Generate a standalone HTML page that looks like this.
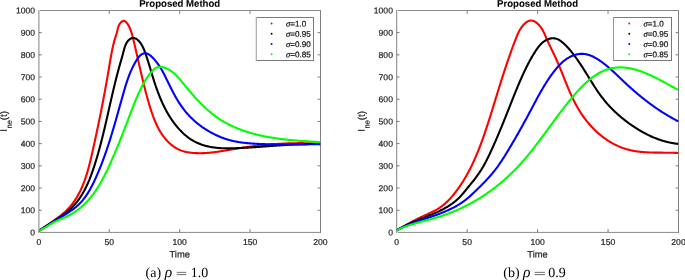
<!DOCTYPE html>
<html><head><meta charset="utf-8"><style>
html,body{margin:0;padding:0;background:#fff;}
body{width:685px;height:280px;overflow:hidden;}
svg{display:block;will-change:transform;}
text{font-family:"Liberation Sans",sans-serif;fill:#262626;stroke:#262626;stroke-width:0.22px;}
.tl{font-size:8.6px;}
.tt{font-size:9.6px;font-weight:bold;fill:#000;stroke:#000;stroke-width:0.08px;}
.xl{font-size:9.4px;}
.yl{font-size:9.4px;}
.lg{font-size:8.1px;fill:#000;}
.sg{font-family:"Liberation Serif",serif;font-style:italic;font-size:8.6px;}
.cap{font-family:"Liberation Serif",serif;font-size:14px;fill:#000;stroke:none;}
.capi{font-style:italic;font-size:15.5px;}
</style></head><body>
<svg width="685" height="280" viewBox="0 0 685 280" xmlns="http://www.w3.org/2000/svg">
<defs><clipPath id="c0"><rect x="38.9" y="10.43" width="281.55" height="222.0"/></clipPath><clipPath id="c1"><rect x="396.7" y="10.43" width="281.8" height="222.0"/></clipPath></defs>
<rect x="38" y="10" width="283" height="1" fill="#888888"/>
<rect x="38" y="232" width="283" height="1" fill="#959595"/>
<rect x="38" y="231" width="283" height="1" fill="#f3f3f3"/>
<rect x="38" y="10" width="1" height="223" fill="#b5b5b5"/>
<rect x="39" y="10" width="1" height="223" fill="#cbcbcb"/>
<rect x="320" y="10" width="1" height="223" fill="#808080"/>
<text x="38.90" y="245.0" transform="rotate(0.05 38.90 245.0)" class="tl" text-anchor="middle">0</text>
<line x1="109.29" y1="232" x2="109.29" y2="229.10" stroke="#262626" stroke-width="0.6"/>
<line x1="109.29" y1="11" x2="109.29" y2="13.90" stroke="#262626" stroke-width="0.6"/>
<text x="109.29" y="245.0" transform="rotate(0.05 109.29 245.0)" class="tl" text-anchor="middle">50</text>
<line x1="179.68" y1="232" x2="179.68" y2="229.10" stroke="#262626" stroke-width="0.6"/>
<line x1="179.68" y1="11" x2="179.68" y2="13.90" stroke="#262626" stroke-width="0.6"/>
<text x="179.68" y="245.0" transform="rotate(0.05 179.68 245.0)" class="tl" text-anchor="middle">100</text>
<line x1="250.06" y1="232" x2="250.06" y2="229.10" stroke="#262626" stroke-width="0.6"/>
<line x1="250.06" y1="11" x2="250.06" y2="13.90" stroke="#262626" stroke-width="0.6"/>
<text x="250.06" y="245.0" transform="rotate(0.05 250.06 245.0)" class="tl" text-anchor="middle">150</text>
<text x="320.45" y="245.0" transform="rotate(0.05 320.45 245.0)" class="tl" text-anchor="middle">200</text>
<text x="35.15" y="235.58" transform="rotate(0.05 35.15 235.58)" class="tl" text-anchor="end">0</text>
<line x1="38.9" y1="210.23" x2="41.80" y2="210.23" stroke="#262626" stroke-width="0.6"/>
<line x1="320" y1="210.23" x2="317.60" y2="210.23" stroke="#262626" stroke-width="0.6"/>
<text x="35.15" y="213.38" transform="rotate(0.05 35.15 213.38)" class="tl" text-anchor="end">100</text>
<line x1="38.9" y1="188.03" x2="41.80" y2="188.03" stroke="#262626" stroke-width="0.6"/>
<line x1="320" y1="188.03" x2="317.60" y2="188.03" stroke="#262626" stroke-width="0.6"/>
<text x="35.15" y="191.18" transform="rotate(0.05 35.15 191.18)" class="tl" text-anchor="end">200</text>
<line x1="38.9" y1="165.83" x2="41.80" y2="165.83" stroke="#262626" stroke-width="0.6"/>
<line x1="320" y1="165.83" x2="317.60" y2="165.83" stroke="#262626" stroke-width="0.6"/>
<text x="35.15" y="168.98" transform="rotate(0.05 35.15 168.98)" class="tl" text-anchor="end">300</text>
<line x1="38.9" y1="143.63" x2="41.80" y2="143.63" stroke="#262626" stroke-width="0.6"/>
<line x1="320" y1="143.63" x2="317.60" y2="143.63" stroke="#262626" stroke-width="0.6"/>
<text x="35.15" y="146.78" transform="rotate(0.05 35.15 146.78)" class="tl" text-anchor="end">400</text>
<line x1="38.9" y1="121.43" x2="41.80" y2="121.43" stroke="#262626" stroke-width="0.6"/>
<line x1="320" y1="121.43" x2="317.60" y2="121.43" stroke="#262626" stroke-width="0.6"/>
<text x="35.15" y="124.58" transform="rotate(0.05 35.15 124.58)" class="tl" text-anchor="end">500</text>
<line x1="38.9" y1="99.23" x2="41.80" y2="99.23" stroke="#262626" stroke-width="0.6"/>
<line x1="320" y1="99.23" x2="317.60" y2="99.23" stroke="#262626" stroke-width="0.6"/>
<text x="35.15" y="102.38" transform="rotate(0.05 35.15 102.38)" class="tl" text-anchor="end">600</text>
<line x1="38.9" y1="77.03" x2="41.80" y2="77.03" stroke="#262626" stroke-width="0.6"/>
<line x1="320" y1="77.03" x2="317.60" y2="77.03" stroke="#262626" stroke-width="0.6"/>
<text x="35.15" y="80.18" transform="rotate(0.05 35.15 80.18)" class="tl" text-anchor="end">700</text>
<line x1="38.9" y1="54.83" x2="41.80" y2="54.83" stroke="#262626" stroke-width="0.6"/>
<line x1="320" y1="54.83" x2="317.60" y2="54.83" stroke="#262626" stroke-width="0.6"/>
<text x="35.15" y="57.98" transform="rotate(0.05 35.15 57.98)" class="tl" text-anchor="end">800</text>
<line x1="38.9" y1="32.63" x2="41.80" y2="32.63" stroke="#262626" stroke-width="0.6"/>
<line x1="320" y1="32.63" x2="317.60" y2="32.63" stroke="#262626" stroke-width="0.6"/>
<text x="35.15" y="35.78" transform="rotate(0.05 35.15 35.78)" class="tl" text-anchor="end">900</text>
<text x="35.15" y="13.58" transform="rotate(0.05 35.15 13.58)" class="tl" text-anchor="end">1000</text>
<g clip-path="url(#c0)" fill="none" stroke-width="2.1" stroke-linejoin="round" stroke-linecap="butt">
<polyline points="38.90,230.79 39.49,230.39 40.09,229.98 40.69,229.57 41.29,229.16 41.90,228.75 42.51,228.34 43.12,227.93 43.73,227.52 44.35,227.11 44.97,226.70 45.59,226.28 46.21,225.87 46.84,225.45 47.46,225.04 48.09,224.62 48.71,224.20 49.34,223.78 49.97,223.36 50.59,222.93 51.22,222.51 51.85,222.08 52.47,221.65 53.10,221.22 53.72,220.78 54.34,220.34 54.96,219.90 55.58,219.46 56.19,219.02 56.80,218.57 57.41,218.12 58.02,217.66 58.63,217.20 59.23,216.74 59.82,216.27 60.41,215.81 61.00,215.33 61.59,214.86 62.16,214.37 62.74,213.89 63.31,213.40 63.87,212.91 64.43,212.41 64.98,211.91 65.53,211.40 66.07,210.89 66.60,210.37 67.13,209.85 67.64,209.32 68.16,208.78 68.66,208.25 69.16,207.70 69.65,207.15 70.13,206.60 70.60,206.04 71.07,205.48 71.53,204.91 71.99,204.33 72.43,203.75 72.87,203.17 73.31,202.58 73.74,201.99 74.16,201.39 74.57,200.79 74.98,200.18 75.38,199.57 75.78,198.96 76.17,198.34 76.55,197.72 76.93,197.09 77.30,196.46 77.67,195.82 78.03,195.18 78.38,194.54 78.73,193.89 79.07,193.24 79.41,192.59 79.75,191.93 80.07,191.27 80.40,190.61 80.71,189.94 81.03,189.27 81.34,188.60 81.64,187.92 81.94,187.24 82.23,186.56 82.52,185.88 82.81,185.19 83.09,184.50 83.36,183.80 83.63,183.11 83.90,182.41 84.17,181.71 84.43,181.00 84.68,180.30 84.93,179.59 85.18,178.88 85.43,178.17 85.67,177.46 85.90,176.74 86.14,176.02 86.37,175.30 86.60,174.58 86.82,173.86 87.04,173.13 87.26,172.41 87.48,171.68 87.69,170.95 87.90,170.22 88.10,169.49 88.31,168.75 88.51,168.02 88.71,167.29 88.91,166.55 89.10,165.81 89.29,165.08 89.48,164.34 89.67,163.60 89.86,162.86 90.04,162.12 90.23,161.38 90.41,160.64 90.59,159.89 90.76,159.15 90.94,158.41 91.12,157.67 91.29,156.93 91.46,156.18 91.63,155.44 91.80,154.70 91.97,153.96 92.14,153.22 92.31,152.48 92.47,151.73 92.64,150.99 92.80,150.25 92.97,149.52 93.13,148.78 93.30,148.04 93.46,147.30 93.62,146.57 93.79,145.83 93.95,145.10 94.11,144.36 94.27,143.63 94.43,142.89 94.59,142.16 94.75,141.43 94.91,140.70 95.07,139.97 95.23,139.24 95.39,138.51 95.55,137.78 95.70,137.05 95.86,136.32 96.02,135.59 96.17,134.86 96.33,134.13 96.48,133.41 96.64,132.68 96.79,131.95 96.95,131.23 97.10,130.50 97.25,129.78 97.41,129.05 97.56,128.32 97.71,127.60 97.86,126.88 98.01,126.15 98.16,125.43 98.32,124.70 98.47,123.98 98.62,123.26 98.76,122.53 98.91,121.81 99.06,121.09 99.21,120.36 99.36,119.64 99.51,118.92 99.65,118.20 99.80,117.47 99.95,116.75 100.09,116.03 100.24,115.31 100.38,114.59 100.53,113.86 100.67,113.14 100.82,112.42 100.96,111.70 101.11,110.97 101.25,110.25 101.39,109.53 101.53,108.81 101.68,108.08 101.82,107.36 101.96,106.64 102.10,105.91 102.24,105.19 102.38,104.47 102.52,103.74 102.66,103.02 102.80,102.29 102.94,101.57 103.08,100.84 103.22,100.12 103.36,99.39 103.50,98.67 103.63,97.94 103.77,97.21 103.91,96.49 104.04,95.76 104.18,95.03 104.32,94.30 104.45,93.58 104.59,92.85 104.72,92.12 104.86,91.39 104.99,90.66 105.13,89.93 105.26,89.20 105.40,88.47 105.53,87.73 105.66,87.00 105.80,86.27 105.93,85.53 106.06,84.80 106.20,84.06 106.33,83.33 106.46,82.59 106.59,81.86 106.72,81.12 106.85,80.38 106.98,79.64 107.11,78.90 107.24,78.16 107.37,77.42 107.50,76.68 107.63,75.94 107.76,75.19 107.89,74.45 108.02,73.70 108.15,72.96 108.28,72.21 108.40,71.46 108.53,70.72 108.66,69.97 108.79,69.22 108.91,68.47 109.04,67.71 109.17,66.96 109.29,66.21 109.42,65.45 109.55,64.70 109.67,63.94 109.80,63.18 109.93,62.43 110.05,61.67 110.18,60.91 110.31,60.16 110.44,59.40 110.57,58.64 110.70,57.89 110.83,57.13 110.96,56.38 111.10,55.63 111.23,54.87 111.37,54.12 111.51,53.37 111.66,52.63 111.80,51.88 111.95,51.14 112.09,50.40 112.25,49.66 112.40,48.92 112.56,48.19 112.72,47.46 112.88,46.73 113.04,46.01 113.21,45.29 113.39,44.57 113.56,43.86 113.74,43.15 113.93,42.44 114.11,41.74 114.31,41.04 114.50,40.35 114.70,39.66 114.91,38.98 115.12,38.30 115.33,37.62 115.55,36.95 115.77,36.28 115.99,35.61 116.20,34.94 116.41,34.25 116.62,33.56 116.81,32.85 116.99,32.12 117.16,31.38 117.33,30.63 117.50,29.86 117.68,29.09 117.88,28.32 118.10,27.55 118.35,26.79 118.63,26.03 118.95,25.29 119.33,24.57 119.75,23.86 120.23,23.18 120.75,22.55 121.31,21.99 121.90,21.51 122.50,21.14 123.11,20.90 123.71,20.81 124.30,20.88 124.87,21.11 125.42,21.46 125.95,21.93 126.46,22.48 126.95,23.09 127.41,23.75 127.85,24.43 128.27,25.11 128.66,25.80 129.03,26.49 129.38,27.19 129.71,27.89 130.02,28.59 130.32,29.30 130.59,30.01 130.86,30.72 131.11,31.44 131.35,32.16 131.57,32.88 131.79,33.60 132.00,34.32 132.20,35.05 132.39,35.77 132.58,36.50 132.77,37.23 132.95,37.95 133.13,38.68 133.31,39.41 133.49,40.14 133.67,40.86 133.84,41.59 134.02,42.32 134.20,43.05 134.37,43.78 134.54,44.50 134.72,45.23 134.89,45.96 135.06,46.69 135.23,47.42 135.40,48.14 135.57,48.87 135.74,49.60 135.91,50.33 136.08,51.06 136.25,51.78 136.41,52.51 136.58,53.24 136.75,53.97 136.91,54.70 137.08,55.42 137.25,56.15 137.41,56.88 137.58,57.61 137.74,58.33 137.91,59.06 138.07,59.79 138.24,60.52 138.40,61.24 138.57,61.97 138.73,62.70 138.89,63.42 139.06,64.15 139.22,64.88 139.39,65.60 139.55,66.33 139.72,67.06 139.88,67.78 140.05,68.51 140.21,69.24 140.38,69.96 140.55,70.69 140.71,71.41 140.88,72.14 141.05,72.87 141.22,73.59 141.38,74.32 141.55,75.04 141.72,75.77 141.89,76.49 142.06,77.22 142.23,77.94 142.41,78.67 142.58,79.39 142.75,80.12 142.93,80.84 143.10,81.56 143.28,82.29 143.45,83.01 143.63,83.74 143.81,84.46 143.99,85.18 144.17,85.91 144.35,86.63 144.53,87.35 144.71,88.07 144.90,88.80 145.08,89.52 145.27,90.24 145.46,90.96 145.65,91.68 145.84,92.41 146.03,93.13 146.22,93.85 146.41,94.57 146.61,95.29 146.81,96.01 147.00,96.73 147.20,97.45 147.40,98.17 147.61,98.89 147.81,99.61 148.02,100.33 148.22,101.05 148.43,101.77 148.64,102.48 148.85,103.20 149.07,103.92 149.28,104.64 149.50,105.35 149.72,106.07 149.94,106.79 150.16,107.50 150.39,108.22 150.62,108.94 150.84,109.65 151.08,110.37 151.31,111.08 151.54,111.80 151.78,112.51 152.03,113.22 152.27,113.93 152.52,114.64 152.77,115.35 153.03,116.05 153.28,116.76 153.55,117.46 153.81,118.16 154.08,118.86 154.36,119.56 154.64,120.25 154.92,120.94 155.21,121.63 155.51,122.32 155.81,123.01 156.11,123.69 156.42,124.37 156.74,125.04 157.06,125.71 157.39,126.38 157.72,127.05 158.06,127.71 158.41,128.37 158.76,129.02 159.12,129.67 159.48,130.32 159.86,130.96 160.24,131.60 160.63,132.23 161.02,132.86 161.43,133.49 161.84,134.11 162.25,134.72 162.68,135.33 163.12,135.94 163.56,136.53 164.01,137.13 164.47,137.72 164.94,138.30 165.42,138.88 165.91,139.45 166.41,140.01 166.91,140.56 167.42,141.11 167.95,141.65 168.48,142.18 169.01,142.70 169.56,143.22 170.12,143.72 170.68,144.21 171.25,144.69 171.83,145.16 172.42,145.62 173.01,146.07 173.62,146.51 174.23,146.93 174.85,147.34 175.48,147.74 176.12,148.12 176.76,148.49 177.41,148.84 178.07,149.18 178.74,149.50 179.41,149.81 180.09,150.10 180.78,150.38 181.48,150.64 182.19,150.88 182.90,151.11 183.61,151.32 184.34,151.51 185.06,151.70 185.79,151.87 186.53,152.02 187.27,152.17 188.01,152.30 188.76,152.42 189.50,152.53 190.25,152.63 191.00,152.72 191.75,152.80 192.50,152.88 193.25,152.94 194.00,153.00 194.75,153.05 195.50,153.09 196.25,153.12 197.00,153.15 197.75,153.17 198.49,153.19 199.24,153.20 199.98,153.20 200.73,153.19 201.47,153.18 202.22,153.16 202.96,153.14 203.71,153.11 204.45,153.08 205.19,153.04 205.93,153.00 206.68,152.95 207.42,152.89 208.16,152.84 208.90,152.77 209.64,152.71 210.38,152.63 211.12,152.56 211.86,152.48 212.60,152.39 213.34,152.31 214.08,152.22 214.82,152.12 215.56,152.03 216.29,151.93 217.03,151.82 217.77,151.72 218.51,151.61 219.25,151.50 219.98,151.39 220.72,151.28 221.46,151.16 222.20,151.04 222.93,150.92 223.67,150.80 224.41,150.68 225.15,150.56 225.88,150.43 226.62,150.31 227.36,150.18 228.09,150.06 228.83,149.93 229.57,149.80 230.31,149.68 231.04,149.55 231.78,149.43 232.52,149.30 233.26,149.18 233.99,149.05 234.73,148.93 235.47,148.81 236.21,148.69 236.95,148.57 237.69,148.45 238.42,148.33 239.16,148.21 239.90,148.10 240.64,147.99 241.38,147.87 242.12,147.76 242.86,147.65 243.60,147.54 244.34,147.43 245.08,147.33 245.82,147.22 246.56,147.12 247.30,147.02 248.04,146.91 248.78,146.81 249.52,146.71 250.26,146.62 251.00,146.52 251.75,146.42 252.49,146.33 253.23,146.24 253.97,146.15 254.71,146.05 255.45,145.97 256.19,145.88 256.94,145.79 257.68,145.71 258.42,145.62 259.16,145.54 259.91,145.46 260.65,145.38 261.39,145.30 262.13,145.22 262.88,145.15 263.62,145.07 264.36,145.00 265.11,144.93 265.85,144.86 266.59,144.79 267.34,144.72 268.08,144.65 268.82,144.59 269.57,144.52 270.31,144.46 271.06,144.40 271.80,144.34 272.55,144.28 273.29,144.23 274.03,144.17 274.78,144.12 275.52,144.06 276.27,144.01 277.01,143.96 277.76,143.92 278.50,143.87 279.25,143.82 279.99,143.78 280.74,143.74 281.48,143.70 282.23,143.66 282.97,143.62 283.72,143.58 284.46,143.55 285.21,143.51 285.95,143.48 286.70,143.45 287.45,143.42 288.19,143.39 288.94,143.37 289.68,143.34 290.43,143.32 291.18,143.30 291.92,143.28 292.67,143.26 293.41,143.24 294.16,143.23 294.91,143.21 295.65,143.20 296.40,143.19 297.15,143.18 297.89,143.17 298.64,143.17 299.39,143.16 300.13,143.16 300.88,143.16 301.63,143.16 302.37,143.16 303.12,143.16 303.87,143.17 304.61,143.18 305.36,143.19 306.11,143.20 306.85,143.21 307.60,143.22 308.35,143.23 309.09,143.25 309.84,143.27 310.59,143.29 311.33,143.31 312.08,143.33 312.83,143.36 313.58,143.39 314.32,143.41 315.07,143.44 315.82,143.47 316.56,143.51 317.31,143.54 318.06,143.58 318.81,143.62 319.55,143.66 320.30,143.70" stroke="#ff0000"/>
<polyline points="38.90,230.80 39.49,230.42 40.08,230.05 40.66,229.68 41.24,229.30 41.81,228.93 42.39,228.56 42.96,228.19 43.53,227.82 44.10,227.45 44.66,227.08 45.22,226.71 45.78,226.35 46.34,225.98 46.90,225.61 47.46,225.24 48.02,224.88 48.57,224.51 49.13,224.14 49.68,223.78 50.24,223.41 50.80,223.04 51.35,222.67 51.91,222.31 52.47,221.94 53.03,221.57 53.59,221.20 54.15,220.83 54.71,220.46 55.28,220.08 55.84,219.71 56.41,219.34 56.99,218.96 57.56,218.58 58.13,218.21 58.71,217.83 59.29,217.45 59.86,217.06 60.44,216.68 61.01,216.29 61.59,215.90 62.16,215.50 62.73,215.11 63.30,214.71 63.86,214.30 64.42,213.90 64.98,213.49 65.53,213.07 66.08,212.65 66.63,212.23 67.17,211.80 67.70,211.37 68.23,210.93 68.75,210.49 69.26,210.04 69.77,209.59 70.27,209.13 70.77,208.67 71.26,208.20 71.74,207.73 72.22,207.25 72.69,206.77 73.15,206.28 73.61,205.79 74.06,205.30 74.51,204.80 74.95,204.29 75.39,203.79 75.82,203.27 76.25,202.76 76.67,202.24 77.08,201.71 77.49,201.18 77.89,200.65 78.29,200.11 78.69,199.57 79.08,199.03 79.46,198.48 79.84,197.93 80.21,197.38 80.58,196.82 80.95,196.26 81.31,195.69 81.66,195.13 82.01,194.56 82.36,193.98 82.70,193.40 83.04,192.82 83.37,192.24 83.70,191.65 84.02,191.06 84.34,190.47 84.66,189.88 84.97,189.28 85.28,188.68 85.59,188.08 85.89,187.47 86.19,186.87 86.48,186.26 86.77,185.64 87.06,185.03 87.34,184.41 87.62,183.80 87.90,183.17 88.17,182.55 88.44,181.93 88.71,181.30 88.97,180.67 89.24,180.04 89.49,179.41 89.75,178.78 90.00,178.14 90.25,177.51 90.50,176.87 90.74,176.23 90.98,175.59 91.22,174.95 91.46,174.30 91.70,173.66 91.93,173.02 92.16,172.37 92.39,171.72 92.61,171.07 92.84,170.43 93.06,169.78 93.28,169.13 93.50,168.47 93.71,167.82 93.93,167.17 94.14,166.52 94.35,165.87 94.56,165.21 94.77,164.56 94.97,163.90 95.18,163.25 95.38,162.60 95.59,161.94 95.79,161.29 95.99,160.63 96.19,159.98 96.39,159.32 96.58,158.67 96.78,158.01 96.97,157.36 97.16,156.70 97.36,156.05 97.55,155.39 97.73,154.74 97.92,154.08 98.11,153.42 98.30,152.77 98.48,152.11 98.66,151.45 98.85,150.80 99.03,150.14 99.21,149.48 99.39,148.83 99.57,148.17 99.74,147.51 99.92,146.86 100.10,146.20 100.27,145.54 100.45,144.88 100.62,144.23 100.79,143.57 100.96,142.91 101.13,142.25 101.30,141.59 101.47,140.94 101.64,140.28 101.81,139.62 101.97,138.96 102.14,138.30 102.30,137.64 102.47,136.98 102.63,136.33 102.79,135.67 102.96,135.01 103.12,134.35 103.28,133.69 103.44,133.03 103.60,132.37 103.76,131.71 103.92,131.05 104.08,130.39 104.23,129.73 104.39,129.07 104.55,128.42 104.70,127.76 104.86,127.10 105.01,126.44 105.17,125.78 105.32,125.12 105.48,124.46 105.63,123.80 105.78,123.14 105.94,122.48 106.09,121.82 106.24,121.16 106.39,120.50 106.54,119.84 106.69,119.18 106.85,118.52 107.00,117.86 107.15,117.20 107.30,116.54 107.45,115.88 107.60,115.22 107.75,114.56 107.90,113.90 108.05,113.24 108.20,112.58 108.34,111.92 108.49,111.26 108.64,110.60 108.79,109.94 108.94,109.28 109.09,108.62 109.24,107.96 109.39,107.30 109.54,106.64 109.69,105.98 109.84,105.32 109.99,104.67 110.13,104.01 110.28,103.35 110.43,102.69 110.58,102.03 110.73,101.37 110.88,100.71 111.03,100.05 111.18,99.39 111.33,98.73 111.49,98.07 111.64,97.41 111.79,96.76 111.94,96.10 112.09,95.44 112.25,94.78 112.40,94.12 112.55,93.46 112.70,92.80 112.86,92.15 113.01,91.49 113.17,90.83 113.32,90.17 113.48,89.51 113.63,88.86 113.79,88.20 113.95,87.54 114.11,86.88 114.26,86.23 114.42,85.57 114.58,84.91 114.74,84.26 114.90,83.60 115.06,82.94 115.22,82.28 115.39,81.63 115.55,80.97 115.71,80.32 115.88,79.66 116.04,79.00 116.21,78.35 116.38,77.69 116.54,77.04 116.71,76.38 116.88,75.73 117.05,75.07 117.22,74.42 117.39,73.76 117.56,73.11 117.74,72.45 117.91,71.80 118.09,71.14 118.26,70.49 118.44,69.83 118.62,69.18 118.80,68.53 118.98,67.87 119.16,67.22 119.34,66.57 119.52,65.91 119.70,65.26 119.89,64.61 120.07,63.96 120.26,63.30 120.45,62.65 120.63,61.99 120.82,61.34 121.01,60.68 121.20,60.02 121.39,59.37 121.57,58.70 121.76,58.04 121.95,57.38 122.14,56.71 122.32,56.04 122.51,55.37 122.69,54.70 122.88,54.03 123.06,53.35 123.24,52.67 123.42,51.98 123.60,51.29 123.78,50.60 123.97,49.91 124.15,49.22 124.35,48.54 124.55,47.86 124.76,47.18 124.98,46.51 125.22,45.85 125.47,45.20 125.75,44.56 126.04,43.93 126.35,43.32 126.69,42.73 127.05,42.15 127.44,41.59 127.86,41.05 128.31,40.54 128.79,40.05 129.31,39.59 129.85,39.16 130.42,38.78 131.01,38.46 131.62,38.21 132.24,38.03 132.86,37.93 133.50,37.92 134.13,38.01 134.76,38.18 135.38,38.42 135.99,38.73 136.59,39.09 137.18,39.51 137.74,39.96 138.28,40.45 138.80,40.97 139.29,41.50 139.76,42.05 140.20,42.60 140.62,43.17 141.01,43.74 141.38,44.31 141.72,44.90 142.06,45.48 142.37,46.08 142.67,46.68 142.96,47.28 143.25,47.89 143.52,48.50 143.78,49.12 144.04,49.74 144.29,50.37 144.54,51.00 144.78,51.63 145.02,52.26 145.25,52.90 145.48,53.54 145.70,54.17 145.93,54.81 146.15,55.46 146.36,56.10 146.58,56.74 146.79,57.38 147.00,58.03 147.21,58.67 147.42,59.31 147.63,59.96 147.83,60.60 148.04,61.25 148.24,61.89 148.44,62.54 148.64,63.18 148.84,63.83 149.04,64.48 149.24,65.12 149.43,65.77 149.63,66.42 149.83,67.07 150.02,67.71 150.22,68.36 150.41,69.01 150.60,69.66 150.80,70.31 150.99,70.96 151.19,71.60 151.38,72.25 151.58,72.90 151.77,73.55 151.97,74.20 152.17,74.85 152.36,75.50 152.56,76.15 152.76,76.80 152.96,77.45 153.16,78.09 153.36,78.74 153.57,79.39 153.77,80.04 153.98,80.69 154.19,81.34 154.39,81.99 154.61,82.63 154.82,83.28 155.03,83.93 155.25,84.58 155.47,85.22 155.68,85.87 155.91,86.51 156.13,87.16 156.35,87.80 156.58,88.45 156.81,89.09 157.04,89.73 157.27,90.38 157.51,91.02 157.74,91.66 157.98,92.30 158.22,92.93 158.47,93.57 158.71,94.21 158.96,94.84 159.21,95.48 159.46,96.11 159.72,96.74 159.98,97.38 160.24,98.01 160.50,98.63 160.76,99.26 161.03,99.89 161.30,100.51 161.58,101.14 161.85,101.76 162.13,102.38 162.41,103.00 162.70,103.61 162.99,104.23 163.28,104.84 163.57,105.46 163.87,106.07 164.16,106.68 164.47,107.28 164.77,107.89 165.08,108.49 165.39,109.09 165.71,109.69 166.03,110.29 166.35,110.88 166.67,111.48 167.00,112.07 167.33,112.66 167.67,113.24 168.01,113.83 168.35,114.41 168.70,114.99 169.05,115.57 169.40,116.14 169.76,116.71 170.12,117.28 170.49,117.85 170.85,118.42 171.23,118.98 171.60,119.54 171.98,120.09 172.37,120.65 172.76,121.20 173.15,121.75 173.55,122.29 173.95,122.84 174.35,123.38 174.76,123.91 175.17,124.45 175.59,124.98 176.01,125.50 176.44,126.03 176.87,126.55 177.31,127.07 177.75,127.58 178.19,128.09 178.64,128.60 179.10,129.11 179.55,129.61 180.02,130.10 180.48,130.60 180.96,131.09 181.43,131.58 181.92,132.06 182.40,132.54 182.90,133.01 183.39,133.48 183.90,133.94 184.40,134.40 184.92,134.85 185.43,135.30 185.96,135.74 186.49,136.18 187.02,136.60 187.56,137.02 188.10,137.44 188.65,137.84 189.21,138.24 189.77,138.63 190.34,139.02 190.91,139.39 191.49,139.76 192.07,140.12 192.66,140.47 193.25,140.81 193.85,141.14 194.46,141.46 195.06,141.78 195.68,142.09 196.29,142.39 196.91,142.68 197.54,142.96 198.16,143.23 198.80,143.50 199.43,143.76 200.07,144.01 200.71,144.25 201.35,144.49 202.00,144.71 202.64,144.93 203.29,145.14 203.95,145.34 204.60,145.54 205.25,145.72 205.91,145.90 206.57,146.07 207.23,146.24 207.89,146.39 208.55,146.54 209.21,146.69 209.87,146.82 210.53,146.95 211.20,147.07 211.87,147.18 212.53,147.29 213.20,147.39 213.87,147.49 214.54,147.58 215.21,147.66 215.88,147.74 216.55,147.81 217.22,147.88 217.89,147.94 218.57,148.00 219.24,148.05 219.91,148.10 220.59,148.14 221.26,148.18 221.94,148.21 222.62,148.24 223.29,148.27 223.97,148.29 224.65,148.31 225.33,148.32 226.01,148.33 226.69,148.34 227.36,148.34 228.04,148.34 228.72,148.34 229.40,148.34 230.08,148.33 230.76,148.32 231.44,148.31 232.12,148.29 232.80,148.28 233.48,148.26 234.16,148.24 234.84,148.22 235.52,148.19 236.20,148.17 236.88,148.15 237.56,148.12 238.24,148.09 238.92,148.06 239.60,148.04 240.28,148.01 240.96,147.97 241.64,147.94 242.32,147.91 243.00,147.88 243.68,147.84 244.36,147.81 245.04,147.77 245.72,147.73 246.39,147.69 247.07,147.66 247.75,147.62 248.43,147.58 249.11,147.54 249.79,147.49 250.46,147.45 251.14,147.41 251.82,147.37 252.50,147.32 253.18,147.28 253.85,147.23 254.53,147.19 255.21,147.14 255.89,147.10 256.56,147.05 257.24,147.00 257.92,146.96 258.60,146.91 259.27,146.86 259.95,146.81 260.63,146.76 261.30,146.71 261.98,146.66 262.66,146.61 263.34,146.57 264.01,146.52 264.69,146.47 265.37,146.42 266.04,146.37 266.72,146.32 267.40,146.27 268.07,146.22 268.75,146.17 269.43,146.11 270.10,146.06 270.78,146.01 271.46,145.96 272.13,145.91 272.81,145.87 273.49,145.82 274.17,145.77 274.84,145.72 275.52,145.67 276.20,145.62 276.87,145.57 277.55,145.52 278.23,145.47 278.90,145.43 279.58,145.38 280.26,145.33 280.93,145.29 281.61,145.24 282.29,145.20 282.96,145.15 283.64,145.11 284.32,145.06 285.00,145.02 285.67,144.98 286.35,144.93 287.03,144.89 287.70,144.85 288.38,144.81 289.06,144.77 289.74,144.73 290.41,144.70 291.09,144.66 291.77,144.62 292.45,144.59 293.12,144.55 293.80,144.52 294.48,144.48 295.16,144.45 295.83,144.42 296.51,144.39 297.19,144.36 297.87,144.33 298.55,144.30 299.22,144.28 299.90,144.25 300.58,144.23 301.26,144.20 301.94,144.18 302.62,144.16 303.30,144.14 303.97,144.12 304.65,144.11 305.33,144.09 306.01,144.08 306.69,144.06 307.37,144.05 308.05,144.04 308.73,144.03 309.41,144.02 310.09,144.02 310.77,144.01 311.45,144.01 312.13,144.00 312.81,144.00 313.49,144.00 314.17,144.01 314.85,144.01 315.53,144.02 316.21,144.02 316.89,144.03 317.57,144.04 318.26,144.05 318.94,144.07 319.62,144.08 320.30,144.10" stroke="#000000"/>
<polyline points="38.90,230.80 39.44,230.49 39.98,230.17 40.52,229.85 41.06,229.54 41.59,229.22 42.13,228.90 42.66,228.59 43.19,228.27 43.72,227.95 44.25,227.63 44.78,227.31 45.31,226.99 45.84,226.67 46.36,226.34 46.88,226.02 47.41,225.70 47.93,225.38 48.45,225.05 48.97,224.73 49.49,224.40 50.01,224.08 50.53,223.75 51.05,223.43 51.57,223.10 52.09,222.77 52.61,222.45 53.13,222.12 53.65,221.79 54.17,221.46 54.68,221.14 55.20,220.81 55.72,220.48 56.24,220.15 56.76,219.82 57.28,219.49 57.80,219.16 58.32,218.83 58.84,218.50 59.36,218.17 59.88,217.84 60.40,217.50 60.93,217.17 61.45,216.84 61.98,216.51 62.50,216.18 63.03,215.84 63.56,215.51 64.09,215.18 64.62,214.85 65.15,214.51 65.67,214.18 66.20,213.84 66.73,213.50 67.26,213.16 67.79,212.82 68.32,212.48 68.84,212.14 69.36,211.79 69.89,211.44 70.41,211.09 70.92,210.74 71.44,210.38 71.95,210.02 72.46,209.66 72.96,209.29 73.46,208.92 73.96,208.55 74.45,208.17 74.94,207.79 75.43,207.41 75.91,207.02 76.38,206.62 76.85,206.22 77.31,205.82 77.77,205.41 78.22,204.99 78.67,204.57 79.11,204.15 79.54,203.72 79.97,203.28 80.40,202.84 80.81,202.40 81.23,201.95 81.63,201.49 82.03,201.03 82.43,200.57 82.82,200.10 83.21,199.63 83.59,199.15 83.97,198.67 84.34,198.19 84.71,197.70 85.07,197.21 85.43,196.72 85.78,196.22 86.13,195.71 86.48,195.21 86.82,194.70 87.16,194.19 87.49,193.67 87.82,193.15 88.15,192.63 88.47,192.11 88.79,191.58 89.10,191.05 89.41,190.52 89.72,189.98 90.03,189.44 90.33,188.90 90.63,188.36 90.92,187.82 91.21,187.27 91.50,186.72 91.79,186.17 92.08,185.62 92.36,185.07 92.64,184.51 92.91,183.96 93.19,183.40 93.46,182.84 93.73,182.28 94.00,181.71 94.27,181.15 94.53,180.59 94.79,180.02 95.05,179.46 95.31,178.89 95.57,178.32 95.82,177.75 96.08,177.19 96.33,176.62 96.58,176.05 96.83,175.48 97.08,174.91 97.33,174.34 97.58,173.77 97.82,173.19 98.06,172.62 98.31,172.05 98.55,171.48 98.79,170.90 99.02,170.33 99.26,169.76 99.50,169.18 99.73,168.61 99.96,168.03 100.19,167.45 100.43,166.88 100.65,166.30 100.88,165.72 101.11,165.15 101.34,164.57 101.56,163.99 101.78,163.41 102.01,162.83 102.23,162.25 102.45,161.67 102.67,161.09 102.88,160.51 103.10,159.93 103.32,159.35 103.53,158.77 103.74,158.19 103.96,157.61 104.17,157.02 104.38,156.44 104.59,155.86 104.80,155.27 105.00,154.69 105.21,154.11 105.41,153.52 105.62,152.94 105.82,152.35 106.03,151.77 106.23,151.18 106.43,150.60 106.63,150.01 106.83,149.42 107.03,148.84 107.22,148.25 107.42,147.66 107.61,147.08 107.81,146.49 108.00,145.90 108.20,145.31 108.39,144.73 108.58,144.14 108.77,143.55 108.96,142.96 109.15,142.37 109.34,141.78 109.53,141.19 109.71,140.60 109.90,140.01 110.09,139.42 110.27,138.83 110.46,138.24 110.64,137.65 110.82,137.06 111.01,136.47 111.19,135.88 111.37,135.29 111.55,134.70 111.73,134.11 111.91,133.52 112.09,132.92 112.27,132.33 112.44,131.74 112.62,131.15 112.80,130.56 112.97,129.97 113.15,129.37 113.33,128.78 113.50,128.19 113.67,127.60 113.85,127.00 114.02,126.41 114.20,125.82 114.37,125.23 114.54,124.63 114.71,124.04 114.88,123.45 115.06,122.86 115.23,122.26 115.40,121.67 115.57,121.08 115.74,120.48 115.91,119.89 116.08,119.30 116.24,118.70 116.41,118.11 116.58,117.52 116.75,116.93 116.92,116.33 117.08,115.74 117.25,115.15 117.42,114.55 117.59,113.96 117.75,113.37 117.92,112.78 118.09,112.18 118.25,111.59 118.42,111.00 118.59,110.40 118.75,109.81 118.92,109.22 119.08,108.63 119.25,108.04 119.41,107.44 119.58,106.85 119.75,106.26 119.91,105.67 120.08,105.08 120.24,104.48 120.41,103.89 120.57,103.30 120.74,102.71 120.90,102.12 121.07,101.53 121.24,100.94 121.40,100.35 121.57,99.75 121.73,99.16 121.90,98.57 122.07,97.98 122.23,97.39 122.40,96.80 122.57,96.21 122.73,95.62 122.90,95.04 123.07,94.45 123.23,93.86 123.40,93.27 123.57,92.68 123.74,92.09 123.91,91.50 124.08,90.92 124.25,90.33 124.42,89.74 124.59,89.15 124.76,88.57 124.94,87.98 125.11,87.40 125.29,86.81 125.46,86.22 125.64,85.64 125.83,85.05 126.01,84.47 126.19,83.88 126.38,83.30 126.57,82.72 126.76,82.13 126.95,81.55 127.14,80.97 127.34,80.38 127.54,79.80 127.74,79.22 127.95,78.64 128.16,78.06 128.37,77.48 128.58,76.90 128.80,76.32 129.02,75.74 129.24,75.16 129.46,74.58 129.69,74.00 129.93,73.43 130.16,72.85 130.40,72.27 130.65,71.70 130.90,71.12 131.15,70.55 131.40,69.97 131.66,69.40 131.93,68.83 132.20,68.25 132.47,67.68 132.75,67.11 133.03,66.54 133.32,65.97 133.61,65.40 133.91,64.83 134.21,64.26 134.52,63.69 134.83,63.12 135.15,62.55 135.47,61.99 135.80,61.42 136.14,60.85 136.48,60.29 136.82,59.73 137.18,59.17 137.55,58.62 137.92,58.08 138.31,57.55 138.71,57.04 139.13,56.55 139.56,56.08 140.01,55.64 140.48,55.22 140.97,54.83 141.48,54.47 142.00,54.15 142.52,53.87 143.06,53.64 143.60,53.45 144.15,53.32 144.70,53.24 145.25,53.22 145.79,53.26 146.34,53.35 146.88,53.50 147.41,53.70 147.95,53.93 148.47,54.21 149.00,54.53 149.51,54.87 150.02,55.25 150.53,55.65 151.03,56.08 151.52,56.52 152.00,56.97 152.47,57.44 152.94,57.91 153.39,58.39 153.84,58.87 154.28,59.35 154.71,59.83 155.13,60.32 155.54,60.81 155.95,61.31 156.34,61.80 156.73,62.30 157.12,62.80 157.49,63.30 157.86,63.81 158.23,64.32 158.58,64.83 158.93,65.34 159.28,65.86 159.61,66.37 159.95,66.89 160.27,67.41 160.60,67.94 160.92,68.46 161.23,68.99 161.54,69.52 161.84,70.05 162.14,70.58 162.44,71.12 162.74,71.65 163.03,72.19 163.31,72.73 163.60,73.27 163.88,73.81 164.16,74.35 164.44,74.90 164.72,75.44 164.99,75.99 165.27,76.54 165.54,77.09 165.81,77.64 166.08,78.19 166.35,78.74 166.62,79.29 166.89,79.84 167.16,80.40 167.43,80.95 167.70,81.51 167.97,82.07 168.24,82.62 168.51,83.18 168.78,83.74 169.06,84.29 169.33,84.85 169.60,85.41 169.88,85.97 170.15,86.52 170.43,87.08 170.71,87.64 170.99,88.20 171.27,88.75 171.55,89.31 171.83,89.87 172.12,90.42 172.40,90.98 172.69,91.53 172.98,92.08 173.27,92.64 173.56,93.19 173.85,93.74 174.15,94.29 174.44,94.84 174.74,95.38 175.04,95.93 175.35,96.48 175.65,97.02 175.96,97.56 176.27,98.10 176.58,98.64 176.90,99.18 177.21,99.71 177.53,100.25 177.85,100.78 178.18,101.31 178.50,101.83 178.83,102.36 179.17,102.88 179.50,103.40 179.84,103.92 180.18,104.44 180.53,104.95 180.87,105.46 181.23,105.97 181.58,106.48 181.94,106.98 182.30,107.48 182.66,107.98 183.03,108.48 183.40,108.97 183.78,109.46 184.16,109.94 184.54,110.42 184.92,110.90 185.31,111.38 185.71,111.85 186.10,112.32 186.50,112.79 186.90,113.26 187.31,113.72 187.72,114.17 188.13,114.63 188.55,115.08 188.97,115.53 189.39,115.98 189.81,116.42 190.24,116.86 190.67,117.30 191.11,117.73 191.55,118.16 191.99,118.59 192.43,119.01 192.88,119.43 193.33,119.85 193.78,120.26 194.24,120.67 194.70,121.08 195.16,121.49 195.63,121.89 196.09,122.29 196.57,122.68 197.04,123.07 197.52,123.46 198.00,123.85 198.48,124.23 198.96,124.61 199.45,124.99 199.94,125.36 200.44,125.73 200.93,126.09 201.43,126.46 201.93,126.82 202.44,127.17 202.94,127.53 203.45,127.88 203.96,128.22 204.48,128.57 205.00,128.91 205.52,129.24 206.04,129.57 206.56,129.90 207.09,130.23 207.62,130.55 208.15,130.87 208.69,131.19 209.22,131.50 209.76,131.81 210.30,132.12 210.85,132.42 211.39,132.72 211.94,133.01 212.49,133.30 213.04,133.59 213.59,133.87 214.15,134.15 214.71,134.43 215.27,134.70 215.83,134.97 216.39,135.23 216.96,135.49 217.52,135.75 218.09,136.00 218.66,136.25 219.23,136.49 219.81,136.73 220.38,136.96 220.96,137.20 221.54,137.42 222.12,137.65 222.70,137.86 223.28,138.08 223.86,138.29 224.45,138.49 225.04,138.70 225.62,138.89 226.21,139.09 226.80,139.27 227.40,139.46 227.99,139.64 228.58,139.81 229.18,139.98 229.77,140.14 230.37,140.30 230.97,140.46 231.57,140.61 232.17,140.76 232.77,140.90 233.37,141.03 233.97,141.17 234.57,141.29 235.18,141.42 235.78,141.54 236.39,141.65 236.99,141.76 237.60,141.87 238.21,141.98 238.82,142.08 239.43,142.17 240.03,142.27 240.64,142.36 241.26,142.44 241.87,142.53 242.48,142.61 243.09,142.68 243.70,142.76 244.32,142.83 244.93,142.90 245.54,142.96 246.16,143.03 246.77,143.09 247.39,143.15 248.00,143.20 248.62,143.26 249.23,143.31 249.85,143.36 250.47,143.41 251.08,143.45 251.70,143.50 252.32,143.54 252.94,143.58 253.55,143.62 254.17,143.66 254.79,143.70 255.41,143.73 256.02,143.77 256.64,143.80 257.26,143.84 257.88,143.87 258.49,143.90 259.11,143.93 259.73,143.96 260.35,143.99 260.97,144.02 261.58,144.05 262.20,144.07 262.82,144.10 263.44,144.12 264.05,144.15 264.67,144.17 265.29,144.19 265.91,144.22 266.53,144.24 267.14,144.26 267.76,144.28 268.38,144.30 269.00,144.31 269.62,144.33 270.23,144.35 270.85,144.36 271.47,144.38 272.09,144.39 272.71,144.41 273.32,144.42 273.94,144.43 274.56,144.44 275.18,144.45 275.80,144.46 276.41,144.47 277.03,144.48 277.65,144.49 278.27,144.50 278.89,144.51 279.50,144.51 280.12,144.52 280.74,144.52 281.36,144.53 281.98,144.53 282.59,144.54 283.21,144.54 283.83,144.54 284.45,144.54 285.07,144.55 285.69,144.55 286.30,144.55 286.92,144.55 287.54,144.55 288.16,144.55 288.78,144.55 289.39,144.54 290.01,144.54 290.63,144.54 291.25,144.54 291.87,144.53 292.49,144.53 293.10,144.53 293.72,144.52 294.34,144.52 294.96,144.51 295.58,144.51 296.19,144.50 296.81,144.49 297.43,144.49 298.05,144.48 298.67,144.47 299.29,144.47 299.90,144.46 300.52,144.45 301.14,144.44 301.76,144.43 302.38,144.43 302.99,144.42 303.61,144.41 304.23,144.40 304.85,144.39 305.47,144.38 306.08,144.37 306.70,144.36 307.32,144.35 307.94,144.34 308.56,144.33 309.18,144.31 309.79,144.30 310.41,144.29 311.03,144.28 311.65,144.27 312.27,144.26 312.88,144.25 313.50,144.23 314.12,144.22 314.74,144.21 315.36,144.20 315.97,144.19 316.59,144.17 317.21,144.16 317.83,144.15 318.45,144.14 319.06,144.12 319.68,144.11 320.30,144.10" stroke="#0000ff"/>
<polyline points="38.90,230.80 39.42,230.56 39.94,230.32 40.45,230.08 40.96,229.82 41.47,229.57 41.98,229.30 42.48,229.04 42.98,228.77 43.48,228.49 43.97,228.21 44.46,227.93 44.96,227.64 45.45,227.36 45.93,227.07 46.42,226.78 46.91,226.48 47.39,226.19 47.88,225.90 48.37,225.60 48.85,225.31 49.34,225.01 49.82,224.72 50.31,224.42 50.79,224.13 51.28,223.84 51.77,223.55 52.26,223.27 52.75,222.98 53.24,222.70 53.74,222.43 54.24,222.15 54.73,221.88 55.24,221.62 55.74,221.36 56.25,221.10 56.76,220.85 57.27,220.61 57.79,220.37 58.31,220.13 58.83,219.89 59.35,219.66 59.87,219.44 60.40,219.21 60.92,218.99 61.45,218.76 61.97,218.54 62.50,218.32 63.03,218.10 63.55,217.87 64.08,217.65 64.60,217.42 65.13,217.20 65.65,216.97 66.17,216.74 66.69,216.50 67.21,216.26 67.72,216.02 68.23,215.77 68.74,215.52 69.25,215.26 69.75,214.99 70.25,214.73 70.75,214.45 71.24,214.17 71.73,213.89 72.22,213.61 72.70,213.31 73.19,213.02 73.67,212.72 74.14,212.41 74.62,212.10 75.09,211.79 75.55,211.47 76.02,211.15 76.48,210.82 76.94,210.49 77.40,210.15 77.85,209.81 78.30,209.47 78.75,209.12 79.19,208.77 79.63,208.42 80.07,208.06 80.51,207.70 80.94,207.33 81.37,206.96 81.80,206.59 82.22,206.21 82.65,205.83 83.06,205.45 83.48,205.06 83.89,204.67 84.30,204.28 84.71,203.88 85.12,203.48 85.52,203.08 85.92,202.67 86.31,202.26 86.71,201.85 87.10,201.43 87.48,201.02 87.87,200.60 88.25,200.17 88.63,199.75 89.01,199.32 89.38,198.89 89.75,198.45 90.12,198.02 90.48,197.58 90.84,197.14 91.20,196.70 91.56,196.25 91.91,195.80 92.27,195.35 92.61,194.90 92.96,194.45 93.30,193.99 93.64,193.53 93.98,193.07 94.31,192.61 94.64,192.15 94.97,191.68 95.30,191.22 95.62,190.75 95.94,190.28 96.26,189.81 96.58,189.33 96.89,188.86 97.20,188.38 97.51,187.91 97.81,187.43 98.11,186.95 98.41,186.46 98.71,185.98 99.01,185.50 99.30,185.01 99.59,184.52 99.88,184.03 100.17,183.54 100.46,183.05 100.74,182.56 101.02,182.07 101.30,181.57 101.58,181.08 101.85,180.58 102.12,180.08 102.40,179.58 102.67,179.08 102.93,178.58 103.20,178.08 103.47,177.58 103.73,177.07 103.99,176.57 104.25,176.06 104.51,175.55 104.76,175.05 105.02,174.54 105.27,174.03 105.53,173.52 105.78,173.01 106.03,172.50 106.28,171.99 106.53,171.47 106.77,170.96 107.02,170.45 107.26,169.93 107.51,169.42 107.75,168.90 107.99,168.39 108.23,167.87 108.47,167.36 108.71,166.84 108.95,166.32 109.18,165.81 109.42,165.29 109.66,164.77 109.89,164.25 110.13,163.73 110.36,163.21 110.59,162.70 110.83,162.18 111.06,161.66 111.29,161.14 111.52,160.62 111.75,160.10 111.98,159.58 112.21,159.06 112.44,158.54 112.67,158.02 112.89,157.50 113.12,156.97 113.35,156.45 113.57,155.93 113.80,155.41 114.02,154.89 114.25,154.37 114.47,153.84 114.70,153.32 114.92,152.80 115.14,152.28 115.36,151.75 115.59,151.23 115.81,150.71 116.03,150.18 116.25,149.66 116.47,149.13 116.68,148.61 116.90,148.09 117.12,147.56 117.34,147.04 117.56,146.51 117.77,145.99 117.99,145.46 118.20,144.94 118.42,144.41 118.63,143.88 118.85,143.36 119.06,142.83 119.28,142.31 119.49,141.78 119.70,141.25 119.91,140.73 120.13,140.20 120.34,139.67 120.55,139.14 120.76,138.62 120.97,138.09 121.18,137.56 121.39,137.03 121.60,136.51 121.81,135.98 122.02,135.45 122.22,134.92 122.43,134.39 122.64,133.86 122.85,133.34 123.05,132.81 123.26,132.28 123.46,131.75 123.67,131.22 123.88,130.69 124.08,130.16 124.29,129.63 124.49,129.10 124.69,128.57 124.90,128.04 125.10,127.51 125.30,126.98 125.51,126.45 125.71,125.92 125.91,125.39 126.11,124.86 126.32,124.33 126.52,123.79 126.72,123.26 126.92,122.73 127.12,122.20 127.32,121.67 127.52,121.14 127.72,120.61 127.92,120.07 128.12,119.54 128.32,119.01 128.52,118.48 128.72,117.95 128.92,117.41 129.12,116.88 129.32,116.35 129.52,115.82 129.72,115.29 129.92,114.76 130.12,114.22 130.32,113.69 130.52,113.16 130.72,112.63 130.92,112.10 131.12,111.57 131.33,111.04 131.53,110.51 131.73,109.98 131.94,109.45 132.14,108.92 132.34,108.39 132.55,107.86 132.76,107.33 132.96,106.80 133.17,106.27 133.38,105.74 133.59,105.22 133.80,104.69 134.01,104.16 134.22,103.64 134.43,103.11 134.64,102.59 134.86,102.06 135.07,101.54 135.29,101.01 135.51,100.49 135.73,99.96 135.95,99.44 136.17,98.92 136.39,98.40 136.61,97.88 136.84,97.36 137.06,96.84 137.29,96.32 137.52,95.80 137.75,95.28 137.98,94.77 138.22,94.25 138.45,93.73 138.69,93.22 138.93,92.70 139.16,92.19 139.41,91.68 139.65,91.17 139.89,90.65 140.14,90.14 140.39,89.63 140.64,89.13 140.89,88.62 141.14,88.11 141.40,87.61 141.66,87.10 141.92,86.60 142.18,86.09 142.44,85.59 142.71,85.09 142.98,84.59 143.25,84.09 143.52,83.59 143.79,83.09 144.07,82.60 144.35,82.10 144.63,81.61 144.92,81.11 145.21,80.62 145.50,80.13 145.80,79.64 146.10,79.16 146.40,78.67 146.71,78.19 147.03,77.71 147.35,77.23 147.67,76.75 148.00,76.27 148.33,75.80 148.67,75.33 149.02,74.86 149.37,74.39 149.73,73.92 150.10,73.46 150.47,73.00 150.85,72.54 151.23,72.08 151.63,71.63 152.03,71.18 152.44,70.74 152.86,70.31 153.28,69.90 153.72,69.50 154.16,69.12 154.62,68.77 155.08,68.44 155.56,68.14 156.04,67.87 156.54,67.63 157.05,67.44 157.57,67.27 158.09,67.15 158.63,67.05 159.17,66.99 159.72,66.96 160.27,66.96 160.83,66.98 161.39,67.03 161.95,67.11 162.51,67.20 163.07,67.32 163.63,67.46 164.18,67.62 164.73,67.79 165.28,67.98 165.82,68.19 166.36,68.41 166.88,68.64 167.40,68.88 167.91,69.13 168.41,69.39 168.91,69.66 169.39,69.94 169.87,70.23 170.35,70.53 170.81,70.84 171.27,71.15 171.73,71.48 172.17,71.81 172.61,72.15 173.05,72.50 173.48,72.86 173.90,73.22 174.32,73.59 174.74,73.96 175.15,74.35 175.56,74.73 175.96,75.13 176.35,75.53 176.75,75.93 177.14,76.34 177.53,76.75 177.91,77.17 178.29,77.59 178.67,78.02 179.05,78.44 179.42,78.87 179.79,79.31 180.16,79.75 180.53,80.18 180.90,80.63 181.26,81.07 181.63,81.51 181.99,81.96 182.36,82.40 182.72,82.85 183.09,83.30 183.45,83.75 183.81,84.19 184.18,84.64 184.54,85.09 184.91,85.53 185.27,85.98 185.64,86.42 186.01,86.87 186.37,87.31 186.74,87.76 187.11,88.20 187.48,88.64 187.85,89.09 188.22,89.53 188.59,89.97 188.96,90.41 189.34,90.85 189.71,91.29 190.08,91.73 190.46,92.17 190.83,92.60 191.21,93.04 191.59,93.47 191.96,93.91 192.34,94.34 192.72,94.77 193.10,95.20 193.48,95.63 193.86,96.06 194.25,96.49 194.63,96.92 195.02,97.34 195.40,97.77 195.79,98.19 196.18,98.61 196.56,99.04 196.95,99.45 197.35,99.87 197.74,100.29 198.13,100.71 198.52,101.12 198.92,101.53 199.32,101.94 199.71,102.35 200.11,102.76 200.51,103.17 200.91,103.58 201.31,103.98 201.72,104.38 202.12,104.78 202.53,105.18 202.94,105.58 203.34,105.97 203.75,106.37 204.17,106.76 204.58,107.15 204.99,107.54 205.41,107.92 205.82,108.31 206.24,108.69 206.66,109.07 207.08,109.45 207.51,109.82 207.93,110.20 208.36,110.57 208.78,110.94 209.21,111.31 209.64,111.67 210.08,112.04 210.51,112.40 210.94,112.76 211.38,113.11 211.82,113.47 212.26,113.82 212.70,114.17 213.15,114.52 213.59,114.86 214.04,115.20 214.49,115.54 214.94,115.88 215.39,116.21 215.84,116.55 216.30,116.88 216.76,117.20 217.22,117.53 217.68,117.85 218.14,118.17 218.61,118.48 219.08,118.80 219.55,119.11 220.02,119.41 220.49,119.72 220.97,120.02 221.45,120.32 221.92,120.61 222.41,120.91 222.89,121.20 223.37,121.48 223.86,121.77 224.35,122.05 224.84,122.33 225.33,122.61 225.83,122.88 226.32,123.15 226.82,123.42 227.32,123.69 227.82,123.95 228.32,124.21 228.83,124.47 229.33,124.72 229.84,124.97 230.35,125.22 230.86,125.47 231.37,125.72 231.88,125.96 232.40,126.20 232.91,126.43 233.43,126.67 233.95,126.90 234.47,127.13 234.99,127.36 235.51,127.58 236.04,127.80 236.56,128.02 237.09,128.24 237.62,128.45 238.14,128.67 238.67,128.88 239.20,129.08 239.74,129.29 240.27,129.49 240.80,129.69 241.34,129.89 241.88,130.09 242.41,130.28 242.95,130.47 243.49,130.66 244.03,130.85 244.57,131.03 245.11,131.21 245.66,131.40 246.20,131.57 246.74,131.75 247.29,131.92 247.83,132.09 248.38,132.26 248.93,132.43 249.48,132.60 250.02,132.76 250.57,132.92 251.12,133.08 251.67,133.24 252.23,133.39 252.78,133.54 253.33,133.69 253.88,133.84 254.43,133.99 254.99,134.13 255.54,134.28 256.10,134.42 256.65,134.56 257.21,134.70 257.76,134.83 258.32,134.96 258.87,135.10 259.43,135.22 259.99,135.35 260.54,135.48 261.10,135.60 261.66,135.73 262.21,135.85 262.77,135.96 263.33,136.08 263.88,136.20 264.44,136.31 265.00,136.42 265.56,136.53 266.12,136.64 266.67,136.75 267.23,136.85 267.79,136.96 268.35,137.06 268.91,137.16 269.47,137.26 270.03,137.36 270.59,137.45 271.15,137.55 271.71,137.64 272.27,137.73 272.83,137.82 273.39,137.91 273.95,138.00 274.51,138.08 275.07,138.17 275.63,138.25 276.19,138.33 276.75,138.41 277.31,138.49 277.87,138.57 278.43,138.65 279.00,138.72 279.56,138.80 280.12,138.87 280.68,138.94 281.24,139.01 281.80,139.08 282.37,139.15 282.93,139.22 283.49,139.28 284.05,139.35 284.62,139.41 285.18,139.48 285.74,139.54 286.31,139.60 286.87,139.66 287.43,139.72 288.00,139.78 288.56,139.83 289.12,139.89 289.69,139.95 290.25,140.00 290.82,140.05 291.38,140.11 291.95,140.16 292.51,140.21 293.07,140.26 293.64,140.31 294.20,140.36 294.77,140.41 295.33,140.45 295.90,140.50 296.47,140.55 297.03,140.59 297.60,140.64 298.16,140.68 298.73,140.72 299.29,140.77 299.86,140.81 300.43,140.85 300.99,140.89 301.56,140.93 302.12,140.97 302.69,141.01 303.26,141.05 303.82,141.09 304.39,141.13 304.96,141.17 305.52,141.20 306.09,141.24 306.66,141.28 307.23,141.31 307.79,141.35 308.36,141.39 308.93,141.42 309.50,141.46 310.06,141.49 310.63,141.53 311.20,141.56 311.77,141.60 312.34,141.63 312.90,141.66 313.47,141.70 314.04,141.73 314.61,141.77 315.18,141.80 315.75,141.83 316.32,141.87 316.89,141.90 317.45,141.93 318.02,141.97 318.59,142.00 319.16,142.03 319.73,142.07 320.30,142.10" stroke="#00ff00"/>
</g>
<text x="179.7" y="6.8" transform="rotate(0.05 179.7 6.8)" class="tt" text-anchor="middle">Proposed Method</text>
<text x="179.7" y="257.55" transform="rotate(0.05 179.7 257.55)" class="xl" text-anchor="middle">Time</text>
<rect x="256" y="17" width="58" height="44" fill="#fff"/>
<rect x="256" y="17" width="58" height="1" fill="#7a7a7a"/>
<rect x="256" y="60" width="58" height="1" fill="#7a7a7a"/>
<rect x="313" y="17" width="1" height="44" fill="#7a7a7a"/>
<rect x="255" y="17" width="1" height="44" fill="#e6e6e6"/>
<rect x="256" y="17" width="1" height="44" fill="#b0b0b0"/>
<circle cx="271.6" cy="23.5" r="0.95" fill="#ff0000"/>
<text x="286.0" y="26.50" transform="rotate(0.05 286.0 26.50)" class="lg"><tspan class="sg">σ</tspan>=<tspan>1.0</tspan></text>
<circle cx="271.6" cy="33.8" r="0.95" fill="#000000"/>
<text x="286.0" y="36.80" transform="rotate(0.05 286.0 36.80)" class="lg"><tspan class="sg">σ</tspan>=<tspan>0.95</tspan></text>
<circle cx="271.6" cy="44.0" r="0.95" fill="#0000ff"/>
<text x="286.0" y="47.00" transform="rotate(0.05 286.0 47.00)" class="lg"><tspan class="sg">σ</tspan>=<tspan>0.90</tspan></text>
<circle cx="271.6" cy="54.2" r="0.95" fill="#00ff00"/>
<text x="286.0" y="57.20" transform="rotate(0.05 286.0 57.20)" class="lg"><tspan class="sg">σ</tspan>=<tspan>0.85</tspan></text>
<rect x="396" y="10" width="283" height="1" fill="#888888"/>
<rect x="396" y="232" width="283" height="1" fill="#959595"/>
<rect x="396" y="231" width="283" height="1" fill="#f3f3f3"/>
<rect x="396" y="10" width="1" height="223" fill="#9a9a9a"/>
<rect x="397" y="10" width="1" height="223" fill="#e6e6e6"/>
<rect x="678" y="10" width="1" height="223" fill="#808080"/>
<text x="396.70" y="245.0" transform="rotate(0.05 396.70 245.0)" class="tl" text-anchor="middle">0</text>
<line x1="467.15" y1="232" x2="467.15" y2="229.10" stroke="#262626" stroke-width="0.6"/>
<line x1="467.15" y1="11" x2="467.15" y2="13.90" stroke="#262626" stroke-width="0.6"/>
<text x="467.15" y="245.0" transform="rotate(0.05 467.15 245.0)" class="tl" text-anchor="middle">50</text>
<line x1="537.60" y1="232" x2="537.60" y2="229.10" stroke="#262626" stroke-width="0.6"/>
<line x1="537.60" y1="11" x2="537.60" y2="13.90" stroke="#262626" stroke-width="0.6"/>
<text x="537.60" y="245.0" transform="rotate(0.05 537.60 245.0)" class="tl" text-anchor="middle">100</text>
<line x1="608.05" y1="232" x2="608.05" y2="229.10" stroke="#262626" stroke-width="0.6"/>
<line x1="608.05" y1="11" x2="608.05" y2="13.90" stroke="#262626" stroke-width="0.6"/>
<text x="608.05" y="245.0" transform="rotate(0.05 608.05 245.0)" class="tl" text-anchor="middle">150</text>
<text x="678.50" y="245.0" transform="rotate(0.05 678.50 245.0)" class="tl" text-anchor="middle">200</text>
<text x="392.95" y="235.58" transform="rotate(0.05 392.95 235.58)" class="tl" text-anchor="end">0</text>
<line x1="396.7" y1="210.23" x2="399.60" y2="210.23" stroke="#262626" stroke-width="0.6"/>
<line x1="678" y1="210.23" x2="675.60" y2="210.23" stroke="#262626" stroke-width="0.6"/>
<text x="392.95" y="213.38" transform="rotate(0.05 392.95 213.38)" class="tl" text-anchor="end">100</text>
<line x1="396.7" y1="188.03" x2="399.60" y2="188.03" stroke="#262626" stroke-width="0.6"/>
<line x1="678" y1="188.03" x2="675.60" y2="188.03" stroke="#262626" stroke-width="0.6"/>
<text x="392.95" y="191.18" transform="rotate(0.05 392.95 191.18)" class="tl" text-anchor="end">200</text>
<line x1="396.7" y1="165.83" x2="399.60" y2="165.83" stroke="#262626" stroke-width="0.6"/>
<line x1="678" y1="165.83" x2="675.60" y2="165.83" stroke="#262626" stroke-width="0.6"/>
<text x="392.95" y="168.98" transform="rotate(0.05 392.95 168.98)" class="tl" text-anchor="end">300</text>
<line x1="396.7" y1="143.63" x2="399.60" y2="143.63" stroke="#262626" stroke-width="0.6"/>
<line x1="678" y1="143.63" x2="675.60" y2="143.63" stroke="#262626" stroke-width="0.6"/>
<text x="392.95" y="146.78" transform="rotate(0.05 392.95 146.78)" class="tl" text-anchor="end">400</text>
<line x1="396.7" y1="121.43" x2="399.60" y2="121.43" stroke="#262626" stroke-width="0.6"/>
<line x1="678" y1="121.43" x2="675.60" y2="121.43" stroke="#262626" stroke-width="0.6"/>
<text x="392.95" y="124.58" transform="rotate(0.05 392.95 124.58)" class="tl" text-anchor="end">500</text>
<line x1="396.7" y1="99.23" x2="399.60" y2="99.23" stroke="#262626" stroke-width="0.6"/>
<line x1="678" y1="99.23" x2="675.60" y2="99.23" stroke="#262626" stroke-width="0.6"/>
<text x="392.95" y="102.38" transform="rotate(0.05 392.95 102.38)" class="tl" text-anchor="end">600</text>
<line x1="396.7" y1="77.03" x2="399.60" y2="77.03" stroke="#262626" stroke-width="0.6"/>
<line x1="678" y1="77.03" x2="675.60" y2="77.03" stroke="#262626" stroke-width="0.6"/>
<text x="392.95" y="80.18" transform="rotate(0.05 392.95 80.18)" class="tl" text-anchor="end">700</text>
<line x1="396.7" y1="54.83" x2="399.60" y2="54.83" stroke="#262626" stroke-width="0.6"/>
<line x1="678" y1="54.83" x2="675.60" y2="54.83" stroke="#262626" stroke-width="0.6"/>
<text x="392.95" y="57.98" transform="rotate(0.05 392.95 57.98)" class="tl" text-anchor="end">800</text>
<line x1="396.7" y1="32.63" x2="399.60" y2="32.63" stroke="#262626" stroke-width="0.6"/>
<line x1="678" y1="32.63" x2="675.60" y2="32.63" stroke="#262626" stroke-width="0.6"/>
<text x="392.95" y="35.78" transform="rotate(0.05 392.95 35.78)" class="tl" text-anchor="end">900</text>
<text x="392.95" y="13.58" transform="rotate(0.05 392.95 13.58)" class="tl" text-anchor="end">1000</text>
<g clip-path="url(#c1)" fill="none" stroke-width="2.1" stroke-linejoin="round" stroke-linecap="butt">
<polyline points="396.70,230.30 397.30,229.97 397.91,229.64 398.51,229.30 399.11,228.97 399.71,228.63 400.31,228.30 400.90,227.96 401.50,227.62 402.10,227.29 402.69,226.95 403.29,226.61 403.89,226.27 404.48,225.94 405.08,225.60 405.67,225.27 406.27,224.93 406.86,224.59 407.46,224.26 408.06,223.93 408.65,223.59 409.25,223.26 409.85,222.93 410.45,222.60 411.04,222.27 411.64,221.94 412.25,221.62 412.85,221.29 413.45,220.97 414.05,220.65 414.66,220.33 415.26,220.02 415.87,219.70 416.48,219.39 417.09,219.08 417.70,218.77 418.32,218.46 418.93,218.16 419.55,217.86 420.17,217.56 420.79,217.27 421.41,216.97 422.04,216.68 422.66,216.40 423.29,216.11 423.91,215.82 424.54,215.54 425.17,215.25 425.80,214.97 426.43,214.68 427.05,214.39 427.68,214.11 428.31,213.82 428.93,213.53 429.56,213.24 430.18,212.94 430.80,212.65 431.42,212.35 432.03,212.04 432.65,211.74 433.26,211.43 433.87,211.11 434.47,210.79 435.08,210.47 435.67,210.14 436.27,209.81 436.86,209.46 437.45,209.12 438.03,208.76 438.61,208.40 439.18,208.04 439.75,207.66 440.31,207.28 440.87,206.89 441.42,206.49 441.96,206.08 442.50,205.67 443.04,205.25 443.57,204.82 444.10,204.38 444.62,203.94 445.13,203.49 445.64,203.04 446.15,202.58 446.65,202.11 447.15,201.64 447.64,201.16 448.13,200.68 448.61,200.19 449.09,199.70 449.56,199.20 450.03,198.69 450.50,198.19 450.96,197.67 451.42,197.16 451.87,196.64 452.32,196.11 452.77,195.59 453.21,195.06 453.65,194.52 454.09,193.98 454.52,193.44 454.95,192.90 455.37,192.35 455.79,191.81 456.21,191.25 456.62,190.70 457.03,190.15 457.44,189.59 457.85,189.03 458.25,188.47 458.65,187.91 459.04,187.35 459.44,186.79 459.83,186.22 460.21,185.65 460.60,185.08 460.98,184.51 461.36,183.94 461.73,183.36 462.10,182.79 462.47,182.21 462.84,181.63 463.20,181.05 463.57,180.47 463.92,179.88 464.28,179.30 464.63,178.71 464.98,178.13 465.33,177.54 465.68,176.95 466.02,176.35 466.36,175.76 466.70,175.16 467.03,174.57 467.36,173.97 467.69,173.37 468.02,172.77 468.35,172.17 468.67,171.57 468.99,170.96 469.31,170.36 469.62,169.75 469.94,169.14 470.25,168.53 470.56,167.92 470.86,167.31 471.17,166.70 471.47,166.09 471.77,165.47 472.07,164.86 472.36,164.24 472.66,163.62 472.95,163.00 473.24,162.38 473.53,161.76 473.81,161.14 474.09,160.52 474.38,159.90 474.66,159.27 474.93,158.65 475.21,158.02 475.48,157.39 475.76,156.76 476.03,156.13 476.30,155.50 476.56,154.87 476.83,154.24 477.09,153.61 477.35,152.98 477.61,152.34 477.87,151.71 478.13,151.07 478.39,150.44 478.64,149.80 478.89,149.16 479.14,148.52 479.39,147.89 479.64,147.25 479.89,146.61 480.13,145.97 480.38,145.32 480.62,144.68 480.86,144.04 481.10,143.40 481.34,142.75 481.58,142.11 481.81,141.47 482.05,140.82 482.28,140.18 482.51,139.53 482.75,138.88 482.98,138.24 483.21,137.59 483.43,136.94 483.66,136.29 483.89,135.65 484.11,135.00 484.34,134.35 484.56,133.70 484.78,133.05 485.00,132.40 485.22,131.75 485.44,131.10 485.66,130.45 485.88,129.80 486.10,129.15 486.32,128.50 486.53,127.85 486.75,127.20 486.96,126.55 487.17,125.90 487.39,125.24 487.60,124.59 487.81,123.94 488.02,123.29 488.23,122.64 488.44,121.98 488.65,121.33 488.86,120.68 489.07,120.03 489.28,119.37 489.49,118.72 489.69,118.07 489.90,117.41 490.10,116.76 490.31,116.11 490.51,115.45 490.72,114.80 490.92,114.15 491.13,113.49 491.33,112.84 491.53,112.18 491.74,111.53 491.94,110.88 492.14,110.22 492.35,109.57 492.55,108.91 492.75,108.26 492.95,107.60 493.15,106.95 493.35,106.29 493.55,105.64 493.76,104.98 493.96,104.33 494.16,103.67 494.36,103.02 494.56,102.37 494.76,101.71 494.96,101.06 495.16,100.40 495.36,99.75 495.56,99.09 495.76,98.44 495.96,97.78 496.16,97.13 496.37,96.47 496.57,95.82 496.77,95.16 496.97,94.51 497.17,93.85 497.37,93.20 497.57,92.54 497.78,91.89 497.98,91.23 498.18,90.58 498.38,89.92 498.59,89.27 498.79,88.61 499.00,87.96 499.20,87.31 499.40,86.65 499.61,86.00 499.81,85.34 500.02,84.69 500.23,84.03 500.43,83.38 500.64,82.73 500.84,82.07 501.05,81.42 501.26,80.77 501.47,80.11 501.68,79.46 501.88,78.81 502.09,78.15 502.30,77.50 502.51,76.85 502.72,76.19 502.93,75.54 503.14,74.89 503.36,74.24 503.57,73.59 503.78,72.93 503.99,72.28 504.21,71.63 504.42,70.98 504.63,70.33 504.85,69.68 505.06,69.02 505.28,68.37 505.49,67.72 505.71,67.07 505.93,66.42 506.14,65.77 506.36,65.12 506.58,64.47 506.80,63.82 507.02,63.17 507.24,62.52 507.46,61.88 507.68,61.23 507.90,60.58 508.12,59.93 508.35,59.28 508.57,58.63 508.79,57.99 509.02,57.34 509.24,56.69 509.47,56.04 509.69,55.40 509.92,54.75 510.15,54.10 510.37,53.46 510.60,52.81 510.83,52.17 511.06,51.52 511.29,50.88 511.52,50.23 511.75,49.59 511.98,48.94 512.22,48.30 512.45,47.66 512.68,47.01 512.92,46.37 513.16,45.73 513.39,45.09 513.63,44.45 513.87,43.81 514.11,43.17 514.35,42.53 514.59,41.90 514.84,41.26 515.08,40.62 515.33,39.99 515.58,39.36 515.82,38.72 516.08,38.09 516.33,37.46 516.58,36.84 516.84,36.21 517.10,35.58 517.37,34.96 517.64,34.33 517.92,33.71 518.21,33.09 518.51,32.47 518.82,31.85 519.14,31.23 519.48,30.61 519.83,29.99 520.20,29.38 520.58,28.76 520.98,28.14 521.40,27.53 521.84,26.92 522.30,26.31 522.78,25.72 523.27,25.14 523.78,24.58 524.30,24.04 524.83,23.52 525.38,23.03 525.94,22.58 526.50,22.16 527.08,21.78 527.67,21.44 528.26,21.15 528.86,20.91 529.46,20.72 530.07,20.58 530.68,20.51 531.29,20.51 531.90,20.56 532.52,20.68 533.13,20.85 533.74,21.08 534.34,21.35 534.94,21.68 535.53,22.04 536.12,22.45 536.69,22.89 537.26,23.36 537.81,23.86 538.35,24.39 538.88,24.94 539.38,25.51 539.88,26.10 540.35,26.70 540.81,27.31 541.24,27.92 541.65,28.53 542.04,29.15 542.42,29.77 542.77,30.39 543.11,31.01 543.43,31.63 543.75,32.26 544.05,32.88 544.34,33.51 544.62,34.13 544.90,34.76 545.17,35.38 545.44,36.01 545.71,36.63 545.97,37.25 546.24,37.88 546.51,38.50 546.79,39.12 547.06,39.74 547.34,40.36 547.62,40.98 547.90,41.60 548.19,42.22 548.47,42.84 548.76,43.45 549.05,44.07 549.34,44.69 549.63,45.30 549.92,45.92 550.22,46.53 550.51,47.15 550.81,47.77 551.10,48.38 551.40,49.00 551.69,49.61 551.99,50.23 552.29,50.84 552.58,51.46 552.88,52.08 553.17,52.69 553.47,53.31 553.76,53.93 554.06,54.54 554.35,55.16 554.64,55.78 554.94,56.40 555.23,57.02 555.52,57.64 555.80,58.26 556.09,58.88 556.37,59.51 556.65,60.13 556.93,60.76 557.21,61.38 557.49,62.01 557.76,62.64 558.04,63.26 558.31,63.89 558.58,64.52 558.85,65.15 559.11,65.78 559.38,66.42 559.64,67.05 559.91,67.68 560.17,68.32 560.43,68.95 560.69,69.58 560.95,70.22 561.21,70.86 561.46,71.49 561.72,72.13 561.98,72.76 562.23,73.40 562.49,74.04 562.74,74.67 563.00,75.31 563.25,75.95 563.50,76.59 563.76,77.22 564.01,77.86 564.27,78.50 564.52,79.14 564.77,79.77 565.03,80.41 565.28,81.05 565.54,81.68 565.79,82.32 566.05,82.96 566.31,83.59 566.57,84.23 566.83,84.86 567.09,85.50 567.35,86.13 567.61,86.76 567.87,87.40 568.13,88.03 568.40,88.66 568.67,89.29 568.93,89.92 569.20,90.55 569.48,91.18 569.75,91.81 570.02,92.44 570.30,93.06 570.58,93.69 570.86,94.31 571.14,94.94 571.42,95.56 571.71,96.18 572.00,96.80 572.29,97.42 572.58,98.04 572.88,98.65 573.18,99.27 573.48,99.88 573.78,100.50 574.09,101.11 574.40,101.72 574.71,102.33 575.03,102.94 575.35,103.54 575.67,104.15 575.99,104.75 576.32,105.35 576.65,105.95 576.99,106.55 577.32,107.14 577.67,107.74 578.01,108.33 578.36,108.92 578.72,109.51 579.07,110.10 579.43,110.68 579.80,111.27 580.17,111.85 580.54,112.43 580.91,113.00 581.29,113.58 581.68,114.15 582.06,114.72 582.45,115.29 582.85,115.85 583.25,116.41 583.65,116.97 584.05,117.53 584.46,118.09 584.87,118.64 585.29,119.19 585.71,119.74 586.13,120.28 586.56,120.82 586.99,121.36 587.42,121.89 587.86,122.43 588.30,122.96 588.74,123.48 589.19,124.00 589.64,124.52 590.10,125.04 590.55,125.55 591.01,126.06 591.48,126.57 591.95,127.07 592.42,127.57 592.89,128.07 593.37,128.56 593.85,129.05 594.34,129.53 594.83,130.01 595.32,130.49 595.81,130.96 596.31,131.43 596.81,131.90 597.32,132.36 597.82,132.81 598.33,133.27 598.85,133.72 599.37,134.16 599.89,134.60 600.41,135.04 600.94,135.47 601.47,135.89 602.00,136.32 602.54,136.74 603.08,137.15 603.62,137.56 604.17,137.96 604.71,138.36 605.27,138.76 605.82,139.15 606.38,139.53 606.94,139.91 607.50,140.29 608.07,140.65 608.64,141.02 609.21,141.38 609.79,141.73 610.37,142.08 610.95,142.43 611.54,142.77 612.12,143.10 612.71,143.43 613.31,143.75 613.90,144.07 614.50,144.38 615.11,144.68 615.71,144.98 616.32,145.28 616.93,145.56 617.54,145.85 618.16,146.12 618.78,146.39 619.40,146.66 620.02,146.92 620.65,147.17 621.28,147.41 621.91,147.65 622.55,147.89 623.19,148.12 623.83,148.34 624.47,148.55 625.12,148.76 625.77,148.96 626.42,149.16 627.07,149.35 627.73,149.53 628.39,149.70 629.05,149.87 629.71,150.03 630.38,150.19 631.05,150.34 631.72,150.48 632.40,150.62 633.07,150.75 633.75,150.87 634.43,150.99 635.11,151.11 635.79,151.22 636.48,151.32 637.17,151.42 637.85,151.51 638.54,151.60 639.23,151.68 639.93,151.76 640.62,151.84 641.32,151.91 642.01,151.97 642.71,152.04 643.41,152.09 644.11,152.15 644.81,152.20 645.51,152.25 646.21,152.29 646.91,152.33 647.61,152.37 648.32,152.40 649.02,152.43 649.72,152.46 650.43,152.49 651.13,152.51 651.83,152.54 652.54,152.56 653.24,152.57 653.94,152.59 654.65,152.60 655.35,152.61 656.05,152.62 656.75,152.63 657.46,152.64 658.16,152.65 658.86,152.65 659.56,152.66 660.25,152.66 660.95,152.67 661.65,152.67 662.34,152.67 663.04,152.68 663.73,152.68 664.42,152.68 665.11,152.69 665.80,152.69 666.49,152.69 667.17,152.70 667.86,152.70 668.54,152.71 669.22,152.72 669.90,152.73 670.57,152.74 671.24,152.75 671.92,152.76 672.59,152.77 673.25,152.79 673.92,152.81 674.58,152.83 675.24,152.85 675.90,152.88 676.55,152.90 677.20,152.93 677.85,152.97 678.50,153.00" stroke="#ff0000"/>
<polyline points="396.70,230.30 397.24,229.98 397.78,229.67 398.31,229.35 398.85,229.05 399.39,228.74 399.94,228.44 400.48,228.14 401.02,227.85 401.56,227.56 402.11,227.27 402.65,226.98 403.20,226.70 403.75,226.42 404.29,226.15 404.84,225.87 405.39,225.60 405.94,225.33 406.49,225.07 407.04,224.81 407.60,224.55 408.15,224.29 408.70,224.03 409.26,223.78 409.81,223.53 410.37,223.28 410.93,223.03 411.49,222.78 412.04,222.54 412.60,222.29 413.16,222.05 413.73,221.81 414.29,221.58 414.85,221.34 415.41,221.10 415.98,220.87 416.54,220.63 417.11,220.40 417.67,220.17 418.24,219.94 418.81,219.71 419.38,219.47 419.95,219.25 420.52,219.02 421.09,218.79 421.66,218.56 422.23,218.33 422.80,218.10 423.38,217.87 423.95,217.64 424.53,217.41 425.10,217.19 425.67,216.96 426.25,216.73 426.82,216.49 427.40,216.26 427.97,216.03 428.54,215.80 429.12,215.56 429.69,215.33 430.26,215.09 430.83,214.86 431.40,214.62 431.98,214.38 432.55,214.14 433.12,213.89 433.68,213.65 434.25,213.40 434.82,213.16 435.38,212.91 435.95,212.65 436.51,212.40 437.07,212.14 437.63,211.89 438.19,211.63 438.75,211.36 439.30,211.10 439.86,210.83 440.41,210.56 440.96,210.29 441.51,210.01 442.06,209.73 442.60,209.45 443.15,209.16 443.69,208.87 444.23,208.58 444.76,208.29 445.30,207.99 445.83,207.69 446.36,207.38 446.88,207.07 447.41,206.76 447.93,206.44 448.45,206.12 448.96,205.79 449.47,205.46 449.98,205.13 450.49,204.79 450.99,204.45 451.49,204.10 451.99,203.75 452.48,203.39 452.97,203.03 453.46,202.66 453.94,202.29 454.42,201.92 454.90,201.53 455.37,201.15 455.84,200.76 456.30,200.36 456.76,199.95 457.22,199.55 457.67,199.13 458.12,198.71 458.56,198.29 459.00,197.85 459.44,197.42 459.87,196.97 460.29,196.52 460.72,196.07 461.13,195.61 461.55,195.14 461.96,194.67 462.37,194.20 462.77,193.72 463.18,193.25 463.58,192.77 463.98,192.29 464.38,191.80 464.78,191.32 465.17,190.84 465.57,190.35 465.97,189.87 466.36,189.39 466.76,188.91 467.16,188.43 467.55,187.95 467.95,187.47 468.34,187.00 468.73,186.52 469.13,186.04 469.52,185.56 469.91,185.09 470.30,184.61 470.69,184.13 471.08,183.65 471.46,183.18 471.85,182.70 472.23,182.22 472.61,181.74 473.00,181.26 473.38,180.78 473.75,180.30 474.13,179.81 474.50,179.33 474.88,178.85 475.25,178.36 475.62,177.87 475.98,177.39 476.35,176.90 476.71,176.41 477.07,175.92 477.43,175.42 477.78,174.93 478.14,174.43 478.49,173.93 478.83,173.43 479.18,172.93 479.52,172.42 479.86,171.92 480.20,171.41 480.53,170.90 480.86,170.38 481.19,169.87 481.51,169.35 481.83,168.83 482.15,168.31 482.46,167.78 482.78,167.26 483.09,166.73 483.39,166.20 483.70,165.66 484.00,165.13 484.30,164.59 484.60,164.05 484.89,163.51 485.18,162.97 485.47,162.43 485.76,161.88 486.05,161.34 486.33,160.79 486.61,160.24 486.89,159.69 487.17,159.14 487.45,158.59 487.72,158.04 487.99,157.48 488.26,156.93 488.53,156.37 488.80,155.82 489.07,155.26 489.33,154.70 489.60,154.14 489.86,153.58 490.12,153.02 490.39,152.46 490.65,151.90 490.90,151.34 491.16,150.78 491.42,150.22 491.68,149.66 491.93,149.10 492.19,148.54 492.44,147.98 492.70,147.42 492.95,146.85 493.20,146.29 493.45,145.73 493.70,145.17 493.95,144.61 494.20,144.04 494.45,143.48 494.70,142.92 494.95,142.35 495.19,141.79 495.44,141.23 495.69,140.67 495.93,140.10 496.17,139.54 496.42,138.97 496.66,138.41 496.90,137.85 497.15,137.28 497.39,136.72 497.63,136.15 497.87,135.59 498.11,135.02 498.35,134.46 498.59,133.89 498.83,133.33 499.06,132.76 499.30,132.20 499.54,131.63 499.78,131.07 500.01,130.50 500.25,129.93 500.48,129.37 500.72,128.80 500.95,128.23 501.19,127.67 501.42,127.10 501.65,126.53 501.89,125.97 502.12,125.40 502.35,124.83 502.58,124.26 502.82,123.69 503.05,123.13 503.28,122.56 503.51,121.99 503.74,121.42 503.97,120.85 504.20,120.28 504.43,119.71 504.66,119.14 504.89,118.57 505.12,118.00 505.35,117.43 505.57,116.86 505.80,116.29 506.03,115.72 506.26,115.15 506.49,114.58 506.71,114.01 506.94,113.43 507.17,112.86 507.40,112.29 507.62,111.72 507.85,111.15 508.08,110.57 508.30,110.00 508.53,109.43 508.76,108.85 508.98,108.28 509.21,107.71 509.43,107.13 509.66,106.56 509.89,105.99 510.11,105.41 510.34,104.84 510.57,104.26 510.79,103.69 511.02,103.12 511.25,102.54 511.47,101.97 511.70,101.39 511.93,100.82 512.16,100.25 512.38,99.67 512.61,99.10 512.84,98.52 513.07,97.95 513.30,97.38 513.53,96.80 513.76,96.23 513.99,95.66 514.22,95.08 514.45,94.51 514.68,93.94 514.91,93.37 515.14,92.80 515.37,92.22 515.60,91.65 515.84,91.08 516.07,90.51 516.30,89.94 516.54,89.37 516.77,88.80 517.01,88.23 517.24,87.66 517.48,87.10 517.72,86.53 517.96,85.96 518.19,85.39 518.43,84.83 518.67,84.26 518.91,83.69 519.15,83.13 519.39,82.56 519.64,82.00 519.88,81.44 520.12,80.87 520.37,80.31 520.61,79.75 520.86,79.19 521.11,78.63 521.36,78.07 521.60,77.51 521.85,76.95 522.10,76.39 522.36,75.84 522.61,75.28 522.86,74.73 523.12,74.17 523.37,73.62 523.63,73.06 523.88,72.51 524.14,71.96 524.40,71.41 524.66,70.86 524.92,70.31 525.19,69.76 525.45,69.22 525.71,68.67 525.98,68.13 526.25,67.58 526.52,67.04 526.79,66.49 527.06,65.95 527.33,65.41 527.61,64.87 527.89,64.33 528.17,63.79 528.45,63.25 528.73,62.71 529.02,62.18 529.30,61.64 529.59,61.10 529.88,60.57 530.18,60.03 530.47,59.50 530.77,58.97 531.07,58.43 531.38,57.90 531.69,57.37 531.99,56.84 532.31,56.30 532.62,55.77 532.94,55.24 533.26,54.71 533.58,54.18 533.91,53.65 534.24,53.12 534.57,52.60 534.91,52.07 535.25,51.54 535.60,51.01 535.94,50.48 536.29,49.96 536.65,49.43 537.01,48.91 537.37,48.39 537.75,47.87 538.12,47.36 538.51,46.85 538.90,46.35 539.30,45.86 539.71,45.37 540.13,44.90 540.56,44.43 541.00,43.98 541.45,43.53 541.92,43.10 542.39,42.68 542.88,42.28 543.38,41.89 543.89,41.52 544.40,41.16 544.93,40.82 545.47,40.49 546.01,40.19 546.56,39.91 547.12,39.64 547.68,39.39 548.24,39.17 548.82,38.97 549.39,38.79 549.97,38.64 550.55,38.51 551.13,38.40 551.71,38.32 552.30,38.27 552.88,38.25 553.46,38.25 554.04,38.28 554.62,38.34 555.20,38.44 555.77,38.56 556.34,38.71 556.90,38.90 557.46,39.12 558.01,39.38 558.56,39.66 559.10,39.97 559.63,40.30 560.15,40.65 560.67,41.02 561.18,41.40 561.69,41.79 562.19,42.19 562.68,42.59 563.16,43.00 563.64,43.42 564.10,43.84 564.57,44.27 565.03,44.70 565.48,45.13 565.92,45.58 566.36,46.02 566.80,46.47 567.23,46.92 567.66,47.38 568.08,47.84 568.49,48.30 568.91,48.77 569.32,49.24 569.72,49.71 570.13,50.19 570.52,50.66 570.92,51.14 571.32,51.62 571.71,52.10 572.09,52.58 572.48,53.07 572.86,53.56 573.24,54.04 573.62,54.54 573.99,55.03 574.37,55.52 574.74,56.01 575.11,56.51 575.47,57.01 575.83,57.51 576.20,58.01 576.56,58.51 576.91,59.01 577.27,59.52 577.62,60.02 577.97,60.53 578.32,61.04 578.67,61.55 579.02,62.06 579.36,62.57 579.70,63.08 580.04,63.59 580.38,64.11 580.72,64.62 581.06,65.14 581.40,65.65 581.73,66.17 582.06,66.69 582.40,67.20 582.73,67.72 583.06,68.24 583.39,68.76 583.72,69.28 584.04,69.80 584.37,70.32 584.70,70.85 585.02,71.37 585.35,71.89 585.67,72.41 586.00,72.93 586.32,73.46 586.64,73.98 586.97,74.50 587.29,75.03 587.61,75.55 587.93,76.07 588.26,76.60 588.58,77.12 588.90,77.64 589.22,78.16 589.55,78.69 589.87,79.21 590.19,79.73 590.52,80.25 590.84,80.77 591.16,81.29 591.49,81.81 591.81,82.33 592.14,82.85 592.47,83.37 592.79,83.89 593.12,84.41 593.45,84.92 593.78,85.44 594.11,85.95 594.44,86.47 594.78,86.98 595.11,87.49 595.45,88.01 595.78,88.52 596.12,89.03 596.46,89.53 596.80,90.04 597.14,90.55 597.49,91.05 597.83,91.56 598.18,92.06 598.53,92.56 598.88,93.06 599.23,93.56 599.59,94.06 599.94,94.55 600.30,95.05 600.66,95.54 601.02,96.03 601.39,96.52 601.76,97.01 602.13,97.50 602.50,97.98 602.87,98.46 603.25,98.94 603.63,99.42 604.01,99.90 604.39,100.38 604.78,100.85 605.17,101.32 605.56,101.79 605.96,102.26 606.35,102.72 606.75,103.19 607.16,103.65 607.56,104.11 607.97,104.56 608.38,105.02 608.79,105.47 609.21,105.92 609.63,106.37 610.05,106.82 610.47,107.27 610.90,107.71 611.32,108.15 611.75,108.59 612.19,109.03 612.62,109.46 613.06,109.90 613.50,110.33 613.94,110.76 614.38,111.19 614.83,111.61 615.27,112.03 615.72,112.45 616.18,112.87 616.63,113.29 617.09,113.71 617.54,114.12 618.00,114.53 618.47,114.94 618.93,115.34 619.40,115.75 619.86,116.15 620.33,116.55 620.81,116.95 621.28,117.35 621.76,117.74 622.23,118.13 622.71,118.52 623.19,118.91 623.68,119.30 624.16,119.68 624.65,120.06 625.13,120.44 625.62,120.82 626.11,121.19 626.61,121.56 627.10,121.94 627.60,122.30 628.10,122.67 628.59,123.04 629.09,123.40 629.60,123.76 630.10,124.12 630.61,124.47 631.11,124.83 631.62,125.18 632.13,125.53 632.64,125.87 633.15,126.22 633.66,126.56 634.18,126.90 634.69,127.24 635.21,127.58 635.73,127.91 636.25,128.24 636.77,128.57 637.29,128.90 637.81,129.22 638.34,129.54 638.86,129.86 639.39,130.18 639.92,130.50 640.45,130.81 640.98,131.12 641.51,131.42 642.05,131.73 642.58,132.03 643.12,132.32 643.66,132.62 644.20,132.91 644.74,133.20 645.28,133.49 645.83,133.77 646.37,134.05 646.92,134.33 647.46,134.60 648.01,134.88 648.56,135.14 649.11,135.41 649.67,135.67 650.22,135.93 650.78,136.19 651.34,136.44 651.89,136.69 652.45,136.93 653.02,137.18 653.58,137.41 654.14,137.65 654.71,137.88 655.27,138.11 655.84,138.33 656.41,138.55 656.98,138.77 657.56,138.99 658.13,139.20 658.71,139.40 659.28,139.61 659.86,139.80 660.44,140.00 661.02,140.19 661.60,140.38 662.19,140.56 662.77,140.74 663.36,140.92 663.95,141.09 664.54,141.25 665.13,141.42 665.72,141.58 666.32,141.73 666.91,141.88 667.51,142.03 668.11,142.17 668.71,142.31 669.31,142.44 669.91,142.57 670.51,142.69 671.12,142.81 671.73,142.93 672.34,143.04 672.95,143.15 673.56,143.25 674.17,143.35 674.78,143.44 675.40,143.53 676.02,143.61 676.64,143.69 677.26,143.77 677.88,143.83 678.50,143.90" stroke="#000000"/>
<polyline points="396.70,230.30 397.19,230.02 397.67,229.75 398.16,229.48 398.65,229.21 399.14,228.94 399.63,228.68 400.12,228.43 400.61,228.18 401.11,227.93 401.60,227.68 402.10,227.44 402.60,227.20 403.10,226.97 403.60,226.74 404.10,226.51 404.60,226.28 405.10,226.06 405.61,225.84 406.11,225.62 406.62,225.41 407.12,225.19 407.63,224.98 408.14,224.78 408.65,224.57 409.16,224.37 409.67,224.17 410.18,223.97 410.70,223.78 411.21,223.58 411.72,223.39 412.24,223.20 412.75,223.01 413.27,222.82 413.79,222.63 414.30,222.45 414.82,222.27 415.34,222.08 415.86,221.90 416.38,221.72 416.90,221.54 417.42,221.36 417.94,221.18 418.46,221.01 418.99,220.83 419.51,220.65 420.03,220.48 420.56,220.30 421.08,220.13 421.60,219.95 422.13,219.78 422.65,219.60 423.18,219.43 423.70,219.25 424.23,219.08 424.75,218.90 425.28,218.73 425.80,218.55 426.33,218.38 426.86,218.20 427.38,218.02 427.91,217.85 428.43,217.67 428.96,217.49 429.48,217.32 430.01,217.14 430.53,216.96 431.06,216.78 431.58,216.60 432.11,216.42 432.63,216.24 433.16,216.05 433.68,215.87 434.20,215.69 434.72,215.50 435.25,215.31 435.77,215.13 436.29,214.94 436.81,214.75 437.33,214.56 437.85,214.37 438.37,214.17 438.88,213.98 439.40,213.78 439.92,213.59 440.43,213.39 440.95,213.19 441.46,212.99 441.98,212.78 442.49,212.58 443.00,212.37 443.51,212.16 444.02,211.95 444.53,211.74 445.04,211.53 445.55,211.31 446.05,211.10 446.56,210.88 447.06,210.65 447.56,210.43 448.06,210.20 448.56,209.98 449.06,209.75 449.56,209.51 450.05,209.28 450.55,209.04 451.04,208.80 451.53,208.56 452.03,208.32 452.51,208.07 453.00,207.82 453.49,207.57 453.97,207.31 454.45,207.05 454.94,206.79 455.42,206.53 455.89,206.26 456.37,206.00 456.84,205.72 457.32,205.45 457.79,205.17 458.26,204.89 458.72,204.60 459.19,204.32 459.65,204.03 460.12,203.73 460.57,203.43 461.03,203.13 461.49,202.83 461.94,202.52 462.39,202.21 462.84,201.90 463.29,201.58 463.73,201.26 464.18,200.93 464.62,200.60 465.06,200.27 465.49,199.93 465.93,199.59 466.36,199.25 466.79,198.90 467.21,198.55 467.64,198.19 468.06,197.84 468.49,197.48 468.91,197.11 469.32,196.75 469.74,196.38 470.16,196.01 470.57,195.64 470.98,195.26 471.39,194.89 471.80,194.51 472.21,194.13 472.62,193.75 473.03,193.37 473.43,192.98 473.84,192.60 474.24,192.21 474.65,191.83 475.05,191.44 475.45,191.05 475.85,190.67 476.26,190.28 476.66,189.89 477.06,189.50 477.46,189.11 477.86,188.72 478.26,188.33 478.65,187.94 479.05,187.55 479.45,187.16 479.84,186.77 480.24,186.38 480.63,185.99 481.03,185.60 481.42,185.20 481.81,184.81 482.20,184.41 482.59,184.02 482.98,183.62 483.37,183.23 483.76,182.83 484.14,182.43 484.53,182.03 484.91,181.63 485.29,181.23 485.67,180.83 486.05,180.43 486.43,180.03 486.81,179.62 487.18,179.22 487.56,178.81 487.93,178.41 488.30,178.00 488.67,177.59 489.04,177.18 489.41,176.77 489.77,176.36 490.14,175.94 490.50,175.53 490.86,175.11 491.22,174.70 491.58,174.28 491.93,173.86 492.29,173.44 492.64,173.01 492.99,172.59 493.33,172.17 493.68,171.74 494.02,171.31 494.37,170.88 494.71,170.45 495.04,170.02 495.38,169.59 495.71,169.15 496.05,168.71 496.38,168.28 496.70,167.84 497.03,167.40 497.35,166.95 497.68,166.51 498.00,166.06 498.32,165.62 498.63,165.17 498.95,164.72 499.26,164.27 499.58,163.82 499.89,163.37 500.20,162.92 500.51,162.46 500.81,162.01 501.12,161.55 501.42,161.09 501.73,160.64 502.03,160.18 502.33,159.72 502.63,159.26 502.93,158.80 503.23,158.33 503.52,157.87 503.82,157.41 504.11,156.94 504.41,156.48 504.70,156.01 504.99,155.54 505.28,155.08 505.57,154.61 505.86,154.14 506.15,153.67 506.44,153.20 506.73,152.73 507.02,152.26 507.30,151.79 507.59,151.32 507.88,150.85 508.16,150.37 508.45,149.90 508.73,149.43 509.02,148.95 509.30,148.48 509.58,148.01 509.87,147.53 510.15,147.06 510.43,146.58 510.72,146.11 511.00,145.63 511.28,145.16 511.56,144.68 511.84,144.21 512.12,143.73 512.40,143.25 512.68,142.78 512.96,142.30 513.24,141.82 513.52,141.34 513.80,140.87 514.08,140.39 514.36,139.91 514.63,139.43 514.91,138.95 515.19,138.47 515.47,137.99 515.74,137.51 516.02,137.03 516.29,136.55 516.57,136.07 516.84,135.59 517.12,135.11 517.39,134.63 517.67,134.15 517.94,133.67 518.21,133.19 518.49,132.70 518.76,132.22 519.03,131.74 519.30,131.26 519.57,130.78 519.85,130.29 520.12,129.81 520.39,129.33 520.66,128.84 520.93,128.36 521.20,127.88 521.47,127.39 521.74,126.91 522.00,126.43 522.27,125.94 522.54,125.46 522.81,124.97 523.08,124.49 523.34,124.00 523.61,123.52 523.88,123.03 524.14,122.55 524.41,122.06 524.67,121.58 524.94,121.09 525.20,120.61 525.47,120.12 525.73,119.64 526.00,119.15 526.26,118.67 526.52,118.18 526.79,117.70 527.05,117.21 527.31,116.72 527.57,116.24 527.84,115.75 528.10,115.26 528.36,114.78 528.62,114.29 528.88,113.81 529.14,113.32 529.40,112.83 529.66,112.35 529.92,111.86 530.18,111.37 530.44,110.89 530.70,110.40 530.95,109.91 531.21,109.43 531.47,108.94 531.73,108.46 531.99,107.97 532.24,107.48 532.50,107.00 532.76,106.51 533.01,106.02 533.27,105.54 533.53,105.05 533.79,104.57 534.04,104.08 534.30,103.60 534.56,103.11 534.81,102.63 535.07,102.14 535.33,101.66 535.59,101.17 535.85,100.69 536.11,100.20 536.37,99.72 536.63,99.24 536.89,98.75 537.15,98.27 537.41,97.79 537.67,97.31 537.93,96.83 538.20,96.34 538.46,95.86 538.72,95.38 538.99,94.90 539.26,94.42 539.52,93.94 539.79,93.46 540.06,92.99 540.33,92.51 540.60,92.03 540.87,91.55 541.14,91.08 541.41,90.60 541.69,90.13 541.96,89.65 542.24,89.18 542.51,88.70 542.79,88.23 543.07,87.76 543.35,87.29 543.63,86.81 543.92,86.34 544.20,85.87 544.49,85.40 544.77,84.94 545.06,84.47 545.35,84.00 545.64,83.53 545.93,83.07 546.23,82.60 546.52,82.14 546.82,81.68 547.12,81.21 547.42,80.75 547.72,80.29 548.03,79.83 548.33,79.37 548.64,78.91 548.95,78.46 549.26,78.00 549.57,77.54 549.89,77.09 550.21,76.63 550.53,76.18 550.85,75.73 551.17,75.28 551.49,74.83 551.82,74.38 552.15,73.93 552.48,73.48 552.82,73.04 553.15,72.59 553.49,72.15 553.83,71.71 554.17,71.26 554.52,70.82 554.86,70.38 555.21,69.95 555.57,69.51 555.92,69.07 556.28,68.64 556.64,68.21 557.00,67.78 557.37,67.36 557.74,66.93 558.11,66.51 558.49,66.10 558.87,65.68 559.25,65.27 559.64,64.87 560.03,64.46 560.43,64.07 560.82,63.67 561.23,63.28 561.63,62.90 562.04,62.52 562.46,62.15 562.88,61.78 563.30,61.42 563.73,61.06 564.16,60.71 564.60,60.36 565.04,60.02 565.49,59.69 565.94,59.37 566.40,59.05 566.87,58.74 567.33,58.43 567.81,58.14 568.28,57.85 568.77,57.57 569.26,57.30 569.75,57.03 570.24,56.78 570.74,56.53 571.25,56.30 571.76,56.07 572.27,55.85 572.78,55.64 573.30,55.45 573.82,55.26 574.34,55.08 574.87,54.92 575.39,54.76 575.92,54.62 576.45,54.49 576.99,54.36 577.52,54.26 578.06,54.16 578.59,54.07 579.13,54.00 579.67,53.94 580.21,53.89 580.75,53.86 581.29,53.84 581.83,53.83 582.36,53.84 582.90,53.86 583.44,53.90 583.98,53.94 584.52,54.00 585.05,54.08 585.59,54.16 586.12,54.26 586.65,54.37 587.18,54.49 587.71,54.62 588.23,54.77 588.76,54.93 589.28,55.10 589.80,55.28 590.31,55.46 590.83,55.66 591.34,55.87 591.85,56.09 592.36,56.32 592.86,56.56 593.36,56.80 593.87,57.05 594.36,57.31 594.86,57.58 595.35,57.85 595.84,58.13 596.33,58.41 596.81,58.70 597.30,59.00 597.78,59.30 598.25,59.60 598.73,59.91 599.20,60.23 599.67,60.54 600.13,60.86 600.60,61.18 601.06,61.50 601.52,61.83 601.97,62.16 602.42,62.49 602.87,62.82 603.32,63.16 603.76,63.50 604.21,63.84 604.65,64.18 605.08,64.52 605.52,64.87 605.95,65.22 606.39,65.57 606.82,65.92 607.24,66.27 607.67,66.63 608.09,66.98 608.51,67.34 608.94,67.70 609.35,68.06 609.77,68.43 610.19,68.79 610.60,69.16 611.01,69.52 611.43,69.89 611.84,70.26 612.25,70.63 612.65,71.00 613.06,71.38 613.47,71.75 613.87,72.12 614.27,72.50 614.68,72.88 615.08,73.25 615.48,73.63 615.88,74.01 616.28,74.39 616.68,74.76 617.08,75.14 617.48,75.52 617.88,75.90 618.28,76.28 618.68,76.67 619.07,77.05 619.47,77.43 619.87,77.81 620.27,78.19 620.66,78.57 621.06,78.95 621.46,79.33 621.86,79.71 622.26,80.09 622.65,80.47 623.05,80.85 623.45,81.23 623.85,81.61 624.25,81.99 624.66,82.36 625.06,82.74 625.46,83.12 625.86,83.49 626.27,83.87 626.67,84.24 627.08,84.61 627.48,84.99 627.89,85.36 628.30,85.73 628.71,86.10 629.11,86.47 629.52,86.84 629.93,87.21 630.34,87.58 630.75,87.95 631.17,88.32 631.58,88.68 631.99,89.05 632.40,89.41 632.82,89.78 633.23,90.14 633.65,90.50 634.07,90.86 634.48,91.23 634.90,91.59 635.32,91.95 635.74,92.30 636.16,92.66 636.58,93.02 637.00,93.38 637.42,93.73 637.84,94.09 638.27,94.44 638.69,94.79 639.11,95.15 639.54,95.50 639.96,95.85 640.39,96.20 640.82,96.55 641.25,96.89 641.68,97.24 642.10,97.59 642.54,97.93 642.97,98.28 643.40,98.62 643.83,98.96 644.26,99.30 644.70,99.64 645.13,99.98 645.57,100.32 646.00,100.66 646.44,101.00 646.88,101.33 647.32,101.67 647.75,102.00 648.19,102.33 648.63,102.66 649.08,102.99 649.52,103.32 649.96,103.65 650.40,103.98 650.85,104.31 651.29,104.63 651.74,104.96 652.19,105.28 652.63,105.60 653.08,105.92 653.53,106.24 653.98,106.56 654.43,106.88 654.88,107.19 655.33,107.51 655.79,107.82 656.24,108.14 656.70,108.45 657.15,108.76 657.61,109.07 658.06,109.38 658.52,109.68 658.98,109.99 659.44,110.29 659.90,110.60 660.36,110.90 660.82,111.20 661.28,111.50 661.75,111.80 662.21,112.10 662.68,112.39 663.14,112.69 663.61,112.98 664.08,113.27 664.55,113.56 665.01,113.85 665.48,114.14 665.96,114.43 666.43,114.71 666.90,115.00 667.37,115.28 667.85,115.56 668.32,115.84 668.80,116.12 669.28,116.40 669.75,116.67 670.23,116.95 670.71,117.22 671.19,117.49 671.67,117.76 672.15,118.03 672.64,118.30 673.12,118.57 673.61,118.83 674.09,119.09 674.58,119.36 675.07,119.62 675.55,119.88 676.04,120.13 676.53,120.39 677.02,120.64 677.52,120.90 678.01,121.15 678.50,121.40" stroke="#0000ff"/>
<polyline points="396.70,230.31 397.16,230.09 397.61,229.87 398.07,229.66 398.52,229.45 398.98,229.24 399.44,229.03 399.90,228.83 400.36,228.63 400.82,228.43 401.28,228.24 401.74,228.04 402.20,227.85 402.67,227.67 403.13,227.48 403.60,227.30 404.06,227.12 404.53,226.94 404.99,226.76 405.46,226.59 405.93,226.42 406.40,226.25 406.87,226.08 407.34,225.91 407.81,225.75 408.28,225.59 408.75,225.43 409.22,225.27 409.70,225.11 410.17,224.96 410.64,224.80 411.12,224.65 411.59,224.50 412.07,224.35 412.54,224.20 413.02,224.06 413.49,223.91 413.97,223.77 414.45,223.63 414.93,223.48 415.40,223.34 415.88,223.20 416.36,223.07 416.84,222.93 417.32,222.79 417.80,222.66 418.28,222.52 418.76,222.39 419.24,222.25 419.72,222.12 420.20,221.99 420.68,221.86 421.16,221.73 421.64,221.60 422.12,221.47 422.60,221.34 423.08,221.21 423.56,221.08 424.04,220.95 424.52,220.82 425.01,220.69 425.49,220.57 425.97,220.44 426.45,220.31 426.93,220.18 427.41,220.05 427.89,219.92 428.37,219.79 428.86,219.67 429.34,219.54 429.82,219.41 430.30,219.28 430.78,219.15 431.26,219.01 431.74,218.88 432.22,218.75 432.70,218.62 433.18,218.48 433.66,218.35 434.14,218.21 434.62,218.08 435.10,217.94 435.58,217.80 436.05,217.66 436.53,217.52 437.01,217.38 437.49,217.24 437.96,217.10 438.44,216.95 438.92,216.81 439.39,216.66 439.87,216.51 440.34,216.36 440.82,216.21 441.29,216.06 441.76,215.90 442.24,215.75 442.71,215.59 443.18,215.43 443.65,215.27 444.12,215.11 444.59,214.95 445.06,214.78 445.53,214.62 446.00,214.45 446.47,214.28 446.94,214.11 447.41,213.94 447.88,213.77 448.34,213.59 448.81,213.42 449.28,213.24 449.74,213.06 450.21,212.88 450.67,212.70 451.13,212.52 451.60,212.33 452.06,212.15 452.52,211.96 452.99,211.78 453.45,211.59 453.91,211.40 454.37,211.20 454.83,211.01 455.29,210.82 455.75,210.62 456.20,210.42 456.66,210.23 457.12,210.03 457.58,209.82 458.03,209.62 458.49,209.42 458.94,209.21 459.40,209.01 459.85,208.80 460.30,208.59 460.76,208.38 461.21,208.17 461.66,207.96 462.11,207.74 462.56,207.53 463.01,207.31 463.46,207.09 463.91,206.87 464.36,206.65 464.80,206.43 465.25,206.21 465.70,205.98 466.14,205.76 466.59,205.53 467.03,205.30 467.48,205.07 467.92,204.84 468.36,204.61 468.80,204.38 469.24,204.14 469.68,203.91 470.12,203.67 470.56,203.43 471.00,203.19 471.44,202.95 471.88,202.71 472.32,202.47 472.75,202.22 473.19,201.98 473.62,201.73 474.06,201.48 474.49,201.23 474.92,200.98 475.35,200.73 475.79,200.48 476.22,200.23 476.65,199.97 477.08,199.72 477.50,199.46 477.93,199.20 478.36,198.94 478.79,198.68 479.21,198.42 479.64,198.16 480.06,197.89 480.49,197.63 480.91,197.36 481.33,197.09 481.75,196.82 482.17,196.55 482.59,196.28 483.01,196.01 483.43,195.74 483.85,195.46 484.27,195.19 484.68,194.91 485.10,194.63 485.52,194.35 485.93,194.07 486.34,193.79 486.76,193.51 487.17,193.22 487.58,192.94 487.99,192.65 488.40,192.37 488.81,192.08 489.22,191.79 489.62,191.50 490.03,191.21 490.44,190.92 490.84,190.62 491.25,190.33 491.65,190.03 492.05,189.74 492.46,189.44 492.86,189.14 493.26,188.84 493.66,188.54 494.05,188.24 494.45,187.94 494.85,187.63 495.25,187.33 495.64,187.02 496.04,186.72 496.43,186.41 496.82,186.10 497.21,185.79 497.61,185.48 498.00,185.17 498.39,184.85 498.77,184.54 499.16,184.22 499.55,183.91 499.94,183.59 500.32,183.27 500.71,182.95 501.09,182.63 501.47,182.31 501.85,181.99 502.23,181.67 502.61,181.34 502.99,181.02 503.37,180.69 503.75,180.36 504.13,180.04 504.50,179.71 504.88,179.38 505.25,179.05 505.62,178.72 506.00,178.38 506.37,178.05 506.74,177.71 507.11,177.38 507.47,177.04 507.84,176.70 508.21,176.37 508.57,176.03 508.94,175.69 509.30,175.35 509.67,175.00 510.03,174.66 510.39,174.32 510.75,173.97 511.11,173.63 511.47,173.28 511.82,172.93 512.18,172.58 512.53,172.23 512.89,171.88 513.24,171.53 513.59,171.18 513.95,170.83 514.30,170.47 514.64,170.12 514.99,169.76 515.34,169.41 515.69,169.05 516.03,168.69 516.38,168.33 516.72,167.97 517.06,167.61 517.41,167.25 517.75,166.89 518.09,166.53 518.43,166.16 518.76,165.80 519.10,165.43 519.44,165.07 519.77,164.70 520.11,164.33 520.44,163.97 520.78,163.60 521.11,163.23 521.44,162.86 521.77,162.49 522.10,162.11 522.43,161.74 522.76,161.37 523.09,160.99 523.41,160.62 523.74,160.24 524.06,159.87 524.39,159.49 524.71,159.11 525.04,158.74 525.36,158.36 525.68,157.98 526.00,157.60 526.32,157.22 526.64,156.84 526.96,156.46 527.28,156.07 527.60,155.69 527.92,155.31 528.23,154.92 528.55,154.54 528.86,154.16 529.18,153.77 529.49,153.38 529.81,153.00 530.12,152.61 530.43,152.22 530.75,151.84 531.06,151.45 531.37,151.06 531.68,150.67 531.99,150.28 532.30,149.89 532.61,149.50 532.92,149.11 533.22,148.71 533.53,148.32 533.84,147.93 534.15,147.54 534.45,147.14 534.76,146.75 535.06,146.36 535.37,145.96 535.67,145.57 535.98,145.17 536.28,144.78 536.58,144.38 536.89,143.98 537.19,143.59 537.49,143.19 537.79,142.79 538.10,142.40 538.40,142.00 538.70,141.60 539.00,141.20 539.30,140.80 539.60,140.40 539.90,140.00 540.20,139.60 540.50,139.20 540.80,138.80 541.10,138.40 541.40,138.00 541.69,137.60 541.99,137.20 542.29,136.80 542.59,136.40 542.89,136.00 543.18,135.60 543.48,135.20 543.78,134.79 544.07,134.39 544.37,133.99 544.67,133.59 544.96,133.18 545.26,132.78 545.56,132.38 545.85,131.98 546.15,131.57 546.44,131.17 546.74,130.77 547.04,130.36 547.33,129.96 547.63,129.56 547.92,129.15 548.22,128.75 548.51,128.35 548.81,127.94 549.11,127.54 549.40,127.14 549.70,126.73 549.99,126.33 550.29,125.92 550.58,125.52 550.88,125.12 551.18,124.71 551.47,124.31 551.77,123.91 552.06,123.50 552.36,123.10 552.66,122.70 552.95,122.29 553.25,121.89 553.54,121.49 553.84,121.08 554.14,120.68 554.44,120.28 554.73,119.88 555.03,119.47 555.33,119.07 555.63,118.67 555.92,118.27 556.22,117.87 556.52,117.46 556.82,117.06 557.12,116.66 557.42,116.26 557.72,115.86 558.01,115.46 558.31,115.06 558.61,114.66 558.91,114.26 559.22,113.86 559.52,113.46 559.82,113.06 560.12,112.66 560.42,112.26 560.72,111.86 561.03,111.47 561.33,111.07 561.63,110.67 561.94,110.27 562.24,109.88 562.55,109.48 562.85,109.08 563.16,108.69 563.46,108.29 563.77,107.90 564.07,107.50 564.38,107.11 564.69,106.71 565.00,106.32 565.30,105.92 565.61,105.53 565.92,105.14 566.23,104.75 566.54,104.36 566.85,103.96 567.17,103.57 567.48,103.18 567.79,102.79 568.10,102.40 568.42,102.01 568.73,101.63 569.05,101.24 569.36,100.85 569.68,100.46 569.99,100.08 570.31,99.69 570.63,99.31 570.95,98.92 571.27,98.54 571.59,98.15 571.91,97.77 572.23,97.39 572.55,97.00 572.87,96.62 573.20,96.24 573.52,95.86 573.85,95.48 574.17,95.10 574.50,94.72 574.82,94.35 575.15,93.97 575.48,93.59 575.81,93.22 576.14,92.85 576.47,92.47 576.81,92.10 577.14,91.73 577.48,91.36 577.81,90.99 578.15,90.62 578.49,90.25 578.83,89.89 579.17,89.52 579.51,89.16 579.85,88.80 580.20,88.44 580.54,88.08 580.89,87.72 581.24,87.36 581.59,87.00 581.94,86.65 582.29,86.30 582.64,85.94 583.00,85.59 583.36,85.24 583.71,84.90 584.07,84.55 584.43,84.21 584.80,83.86 585.16,83.52 585.53,83.18 585.90,82.85 586.27,82.51 586.64,82.18 587.01,81.84 587.39,81.51 587.76,81.18 588.14,80.86 588.52,80.53 588.90,80.21 589.29,79.89 589.67,79.57 590.06,79.25 590.45,78.94 590.84,78.62 591.24,78.31 591.63,78.00 592.03,77.70 592.43,77.40 592.83,77.10 593.24,76.80 593.64,76.50 594.05,76.21 594.46,75.92 594.88,75.64 595.29,75.36 595.71,75.08 596.13,74.80 596.55,74.53 596.97,74.27 597.40,74.00 597.83,73.75 598.26,73.49 598.69,73.24 599.12,73.00 599.56,72.76 600.00,72.52 600.44,72.29 600.88,72.06 601.33,71.84 601.78,71.62 602.23,71.41 602.68,71.21 603.14,71.01 603.60,70.81 604.06,70.62 604.52,70.44 604.98,70.26 605.45,70.08 605.92,69.92 606.39,69.75 606.86,69.60 607.33,69.44 607.80,69.30 608.28,69.15 608.76,69.02 609.24,68.89 609.72,68.76 610.20,68.64 610.68,68.53 611.16,68.42 611.65,68.31 612.14,68.22 612.62,68.12 613.11,68.04 613.60,67.95 614.09,67.88 614.58,67.81 615.07,67.74 615.57,67.68 616.06,67.63 616.55,67.58 617.05,67.54 617.54,67.50 618.03,67.47 618.53,67.44 619.02,67.42 619.52,67.41 620.02,67.40 620.51,67.40 621.01,67.40 621.50,67.41 622.00,67.42 622.49,67.44 622.99,67.47 623.48,67.50 623.98,67.53 624.48,67.57 624.97,67.62 625.46,67.67 625.96,67.73 626.45,67.79 626.95,67.85 627.44,67.92 627.93,68.00 628.43,68.07 628.92,68.16 629.41,68.25 629.90,68.34 630.39,68.43 630.88,68.53 631.37,68.64 631.86,68.75 632.35,68.86 632.84,68.97 633.33,69.09 633.81,69.22 634.30,69.34 634.78,69.47 635.27,69.60 635.75,69.74 636.23,69.88 636.72,70.02 637.20,70.17 637.68,70.32 638.16,70.47 638.64,70.62 639.11,70.78 639.59,70.94 640.06,71.10 640.54,71.26 641.01,71.43 641.48,71.60 641.95,71.77 642.43,71.94 642.89,72.12 643.36,72.30 643.83,72.48 644.30,72.66 644.76,72.84 645.23,73.03 645.69,73.22 646.15,73.41 646.61,73.60 647.08,73.79 647.54,73.99 647.99,74.19 648.45,74.38 648.91,74.59 649.37,74.79 649.82,74.99 650.28,75.20 650.73,75.41 651.19,75.62 651.64,75.83 652.09,76.04 652.55,76.25 653.00,76.47 653.45,76.68 653.90,76.90 654.35,77.12 654.79,77.34 655.24,77.56 655.69,77.79 656.14,78.01 656.58,78.24 657.03,78.46 657.47,78.69 657.92,78.92 658.36,79.15 658.81,79.38 659.25,79.61 659.69,79.84 660.13,80.07 660.58,80.30 661.02,80.54 661.46,80.77 661.90,81.01 662.34,81.25 662.78,81.48 663.22,81.72 663.66,81.96 664.10,82.20 664.54,82.44 664.97,82.67 665.41,82.91 665.85,83.15 666.29,83.39 666.73,83.64 667.16,83.88 667.60,84.12 668.04,84.36 668.47,84.60 668.91,84.84 669.35,85.08 669.78,85.32 670.22,85.57 670.65,85.81 671.09,86.05 671.53,86.29 671.96,86.53 672.40,86.77 672.83,87.01 673.27,87.25 673.70,87.49 674.14,87.73 674.58,87.97 675.01,88.21 675.45,88.45 675.88,88.68 676.32,88.92 676.75,89.16 677.19,89.39 677.63,89.63 678.06,89.87 678.50,90.10" stroke="#00ff00"/>
</g>
<text x="537.6" y="6.8" transform="rotate(0.05 537.6 6.8)" class="tt" text-anchor="middle">Proposed Method</text>
<text x="537.6" y="257.55" transform="rotate(0.05 537.6 257.55)" class="xl" text-anchor="middle">Time</text>
<rect x="613" y="17" width="59" height="44" fill="#fff"/>
<rect x="613" y="17" width="59" height="1" fill="#7a7a7a"/>
<rect x="613" y="60" width="59" height="1" fill="#7a7a7a"/>
<rect x="671" y="17" width="1" height="44" fill="#7a7a7a"/>
<rect x="613" y="17" width="1" height="44" fill="#999999"/>
<circle cx="629.3" cy="23.5" r="0.95" fill="#ff0000"/>
<text x="643.5" y="26.50" transform="rotate(0.05 643.5 26.50)" class="lg"><tspan class="sg">σ</tspan>=<tspan>1.0</tspan></text>
<circle cx="629.3" cy="33.8" r="0.95" fill="#000000"/>
<text x="643.5" y="36.80" transform="rotate(0.05 643.5 36.80)" class="lg"><tspan class="sg">σ</tspan>=<tspan>0.95</tspan></text>
<circle cx="629.3" cy="44.0" r="0.95" fill="#0000ff"/>
<text x="643.5" y="47.00" transform="rotate(0.05 643.5 47.00)" class="lg"><tspan class="sg">σ</tspan>=<tspan>0.90</tspan></text>
<circle cx="629.3" cy="54.2" r="0.95" fill="#00ff00"/>
<text x="643.5" y="57.20" transform="rotate(0.05 643.5 57.20)" class="lg"><tspan class="sg">σ</tspan>=<tspan>0.85</tspan></text>
<rect x="0.10" y="129.8" width="6.9" height="1.1" fill="#2a2a2a"/>
<text transform="translate(11.80,128.5) rotate(-89.95)" class="yl" style="font-size:7.5px">ne</text>
<text transform="translate(7.00,120.2) rotate(-89.95)" class="yl" style="font-size:9.8px">(t)</text>
<rect x="357.90" y="129.8" width="6.9" height="1.1" fill="#2a2a2a"/>
<text transform="translate(369.60,128.5) rotate(-89.95)" class="yl" style="font-size:7.5px">ne</text>
<text transform="translate(364.80,120.2) rotate(-89.95)" class="yl" style="font-size:9.8px">(t)</text>
<text x="145.55" y="277" transform="rotate(0.05 145.55 277)" class="cap">(a)</text>
<text x="164.7" y="277" transform="rotate(0.05 164.7 277)" class="cap capi">ρ</text>
<rect x="176.7" y="271.85" width="9.50" height="0.95" fill="#666"/>
<rect x="176.7" y="274.15" width="9.50" height="0.95" fill="#666"/>
<text x="190.65" y="277" transform="rotate(0.05 190.65 277)" class="cap">1.0</text>
<text x="503.35" y="277" transform="rotate(0.05 503.35 277)" class="cap">(b)</text>
<text x="523.1" y="277" transform="rotate(0.05 523.1 277)" class="cap capi">ρ</text>
<rect x="534.6" y="271.85" width="10.30" height="0.95" fill="#666"/>
<rect x="534.6" y="274.15" width="10.30" height="0.95" fill="#666"/>
<text x="548.15" y="277" transform="rotate(0.05 548.15 277)" class="cap">0.9</text>
</svg>
</body></html>
